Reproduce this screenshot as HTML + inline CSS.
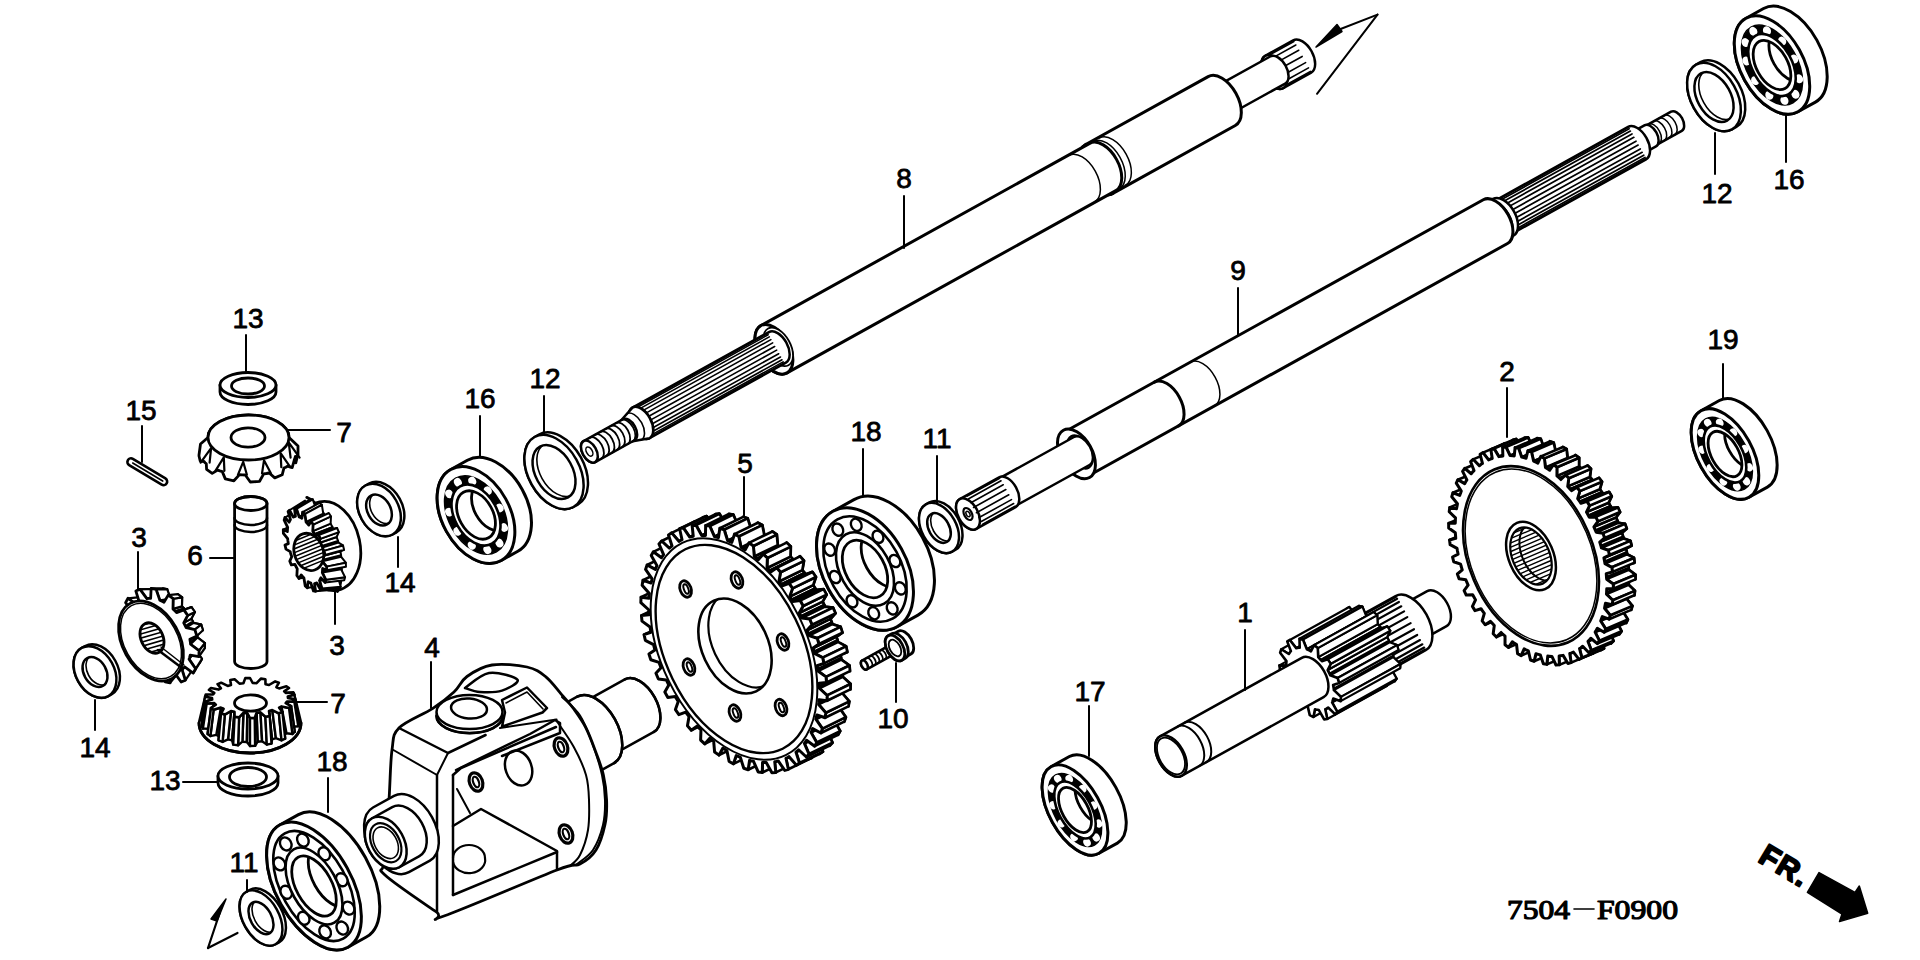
<!DOCTYPE html>
<html><head><meta charset="utf-8"><style>
html,body{margin:0;padding:0;background:#fff;width:1920px;height:960px;overflow:hidden}
svg{display:block}
text{font-family:"Liberation Sans",sans-serif}
</style></head><body>
<svg width="1920" height="960" viewBox="0 0 1920 960">
<rect width="1920" height="960" fill="#fff"/>
<g fill="none" stroke="#000" stroke-linejoin="round" stroke-linecap="round">
<g transform="translate(585.0,454.0) rotate(-29.0)">
<path d="M788.0,-18.5 L820.0,-18.5 A10.7,18.5 0 0 1 820.0,18.5 L788.0,18.5 A10.7,18.5 0 0 1 788.0,-18.5 Z" fill="#fff" stroke-width="2.5" />
<ellipse cx="788.0" cy="0.0" rx="10.7" ry="18.5" fill="#fff" stroke-width="2.5" />
<line x1="794.0" y1="-17.1" x2="820.0" y2="-17.1" stroke-width="1.6"/>
<line x1="794.0" y1="-13.1" x2="820.0" y2="-13.1" stroke-width="1.6"/>
<line x1="794.0" y1="-7.1" x2="820.0" y2="-7.1" stroke-width="1.6"/>
<line x1="794.0" y1="0.0" x2="820.0" y2="0.0" stroke-width="1.6"/>
<line x1="794.0" y1="7.1" x2="820.0" y2="7.1" stroke-width="1.6"/>
<line x1="794.0" y1="13.1" x2="820.0" y2="13.1" stroke-width="1.6"/>
<line x1="794.0" y1="17.1" x2="820.0" y2="17.1" stroke-width="1.6"/>
<path d="M722.0,-15.5 L792.0,-15.5 A9.0,15.5 0 0 1 792.0,15.5 L722.0,15.5 A9.0,15.5 0 0 1 722.0,-15.5 Z" fill="#fff" stroke-width="2.5" />
<path d="M588.0,-28.0 L728.0,-28.0 A16.2,28.0 0 0 1 728.0,28.0 L588.0,28.0 A16.2,28.0 0 0 1 588.0,-28.0 Z" fill="#fff" stroke-width="3" />
<path d="M588.0,28.0 A16.2,28.0 0 0 1 588.0,-28.0" fill="none" stroke-width="3" />
<path d="M596.0,-27.0 A15.7,27.0 0 0 1 596.0,27.0" fill="none" stroke-width="1.5" />
<path d="M603.0,-27.0 A15.7,27.0 0 0 1 603.0,27.0" fill="none" stroke-width="1.5" />
<path d="M216.0,-27.0 L592.0,-27.0 A15.7,27.0 0 0 1 592.0,27.0 L216.0,27.0 A15.7,27.0 0 0 1 216.0,-27.0 Z" fill="#fff" stroke-width="3" />
<path d="M568.0,-26.5 A15.4,26.5 0 0 1 568.0,26.5" fill="none" stroke-width="1.5" />
<ellipse cx="216.0" cy="0.0" rx="15.7" ry="27.0" fill="#fff" stroke-width="3" />
<ellipse cx="221.0" cy="0.0" rx="12.2" ry="21.0" fill="#fff" stroke-width="1.8" />
<path d="M64.0,-17.5 L220.0,-17.5 A10.1,17.5 0 0 1 220.0,17.5 L64.0,17.5 A10.1,17.5 0 0 1 64.0,-17.5 Z" fill="#fff" stroke-width="2.5" />
<ellipse cx="64.0" cy="0.0" rx="10.1" ry="17.5" fill="#fff" stroke-width="2.5" />
<line x1="70.0" y1="-17.0" x2="218.0" y2="-17.0" stroke-width="1.6"/>
<line x1="70.0" y1="-15.5" x2="218.0" y2="-15.5" stroke-width="1.6"/>
<line x1="70.0" y1="-13.1" x2="218.0" y2="-13.1" stroke-width="1.6"/>
<line x1="70.0" y1="-9.9" x2="218.0" y2="-9.9" stroke-width="1.6"/>
<line x1="70.0" y1="-6.2" x2="218.0" y2="-6.2" stroke-width="1.6"/>
<line x1="70.0" y1="-2.1" x2="218.0" y2="-2.1" stroke-width="1.6"/>
<line x1="70.0" y1="2.1" x2="218.0" y2="2.1" stroke-width="1.6"/>
<line x1="70.0" y1="6.2" x2="218.0" y2="6.2" stroke-width="1.6"/>
<line x1="70.0" y1="9.9" x2="218.0" y2="9.9" stroke-width="1.6"/>
<line x1="70.0" y1="13.1" x2="218.0" y2="13.1" stroke-width="1.6"/>
<line x1="70.0" y1="15.5" x2="218.0" y2="15.5" stroke-width="1.6"/>
<line x1="70.0" y1="17.0" x2="218.0" y2="17.0" stroke-width="1.6"/>
<path d="M48,-12 L64,-17.5 A10.1,17.5 0 0 1 64,17.5 L48,12 A7.0,12 0 0 1 48,-12 Z" fill="#fff" stroke-width="2.5" />
<path d="M56.0,-15.0 A8.7,15.0 0 0 1 56.0,15.0" fill="none" stroke-width="1.6" />
<path d="M5.0,-12.0 L50.0,-12.0 A7.0,12.0 0 0 1 50.0,12.0 L5.0,12.0 A7.0,12.0 0 0 1 5.0,-12.0 Z" fill="#fff" stroke-width="2.5" />
<ellipse cx="5.0" cy="0.0" rx="7.0" ry="12.0" fill="#fff" stroke-width="2.5" />
<path d="M12.0,-12.0 A7.0,12.0 0 0 1 12.0,12.0" fill="none" stroke-width="1.8" />
<path d="M18.0,-12.0 A7.0,12.0 0 0 1 18.0,12.0" fill="none" stroke-width="1.8" />
<path d="M24.0,-12.0 A7.0,12.0 0 0 1 24.0,12.0" fill="none" stroke-width="1.8" />
<path d="M30.0,-12.0 A7.0,12.0 0 0 1 30.0,12.0" fill="none" stroke-width="1.8" />
<path d="M36.0,-12.0 A7.0,12.0 0 0 1 36.0,12.0" fill="none" stroke-width="1.8" />
<path d="M42.0,-12.0 A7.0,12.0 0 0 1 42.0,12.0" fill="none" stroke-width="1.8" />
<path d="M48.0,-12.0 A7.0,12.0 0 0 1 48.0,12.0" fill="none" stroke-width="1.8" />
<ellipse cx="5.0" cy="0.0" rx="2.9" ry="5.0" fill="none" stroke-width="1.5" />
</g>
<g transform="translate(939.0,528.0) rotate(-29.0)">
<path d="M0.0,-27.0 L4.0,-27.0 A17.3,27.0 0 0 1 4.0,27.0 L0.0,27.0 A17.3,27.0 0 0 1 0.0,-27.0 Z" fill="#fff" stroke-width="2.5" />
<ellipse cx="0.0" cy="0.0" rx="17.3" ry="27.0" fill="#fff" stroke-width="2.5" />
<ellipse cx="0.0" cy="0.0" rx="10.2" ry="16.0" fill="#fff" stroke-width="2.5" />
<clipPath id="k1"><ellipse cx="0" cy="0" rx="10.2" ry="16.0"/></clipPath>
<ellipse cx="4.0" cy="0.0" rx="10.2" ry="16.0" fill="none" stroke-width="1.6" clip-path="url(#k1)"/>
</g>
<g transform="translate(968.0,514.0) rotate(-29.0)">
<path d="M772.0,-11.0 L810.0,-11.0 A6.4,11.0 0 0 1 810.0,11.0 L772.0,11.0 A6.4,11.0 0 0 1 772.0,-11.0 Z" fill="#fff" stroke-width="2.5" />
<ellipse cx="772.0" cy="0.0" rx="6.4" ry="11.0" fill="#fff" stroke-width="2.5" />
<path d="M778.0,-11.0 A6.4,11.0 0 0 1 778.0,11.0" fill="none" stroke-width="1.5" />
<path d="M784.0,-11.0 A6.4,11.0 0 0 1 784.0,11.0" fill="none" stroke-width="1.5" />
<path d="M790.0,-11.0 A6.4,11.0 0 0 1 790.0,11.0" fill="none" stroke-width="1.5" />
<path d="M796.0,-11.0 A6.4,11.0 0 0 1 796.0,11.0" fill="none" stroke-width="1.5" />
<path d="M802.0,-11.0 A6.4,11.0 0 0 1 802.0,11.0" fill="none" stroke-width="1.5" />
<path d="M760.0,-12.0 L780.0,-12.0 A7.0,12.0 0 0 1 780.0,12.0 L760.0,12.0 A7.0,12.0 0 0 1 760.0,-12.0 Z" fill="#fff" stroke-width="2.5" />
<path d="M606.0,-18.5 L765.0,-18.5 A10.7,18.5 0 0 1 765.0,18.5 L606.0,18.5 A10.7,18.5 0 0 1 606.0,-18.5 Z" fill="#fff" stroke-width="2.5" />
<ellipse cx="606.0" cy="0.0" rx="10.7" ry="18.5" fill="#fff" stroke-width="2.5" />
<line x1="614.0" y1="-18.0" x2="765.0" y2="-18.0" stroke-width="1.7"/>
<line x1="614.0" y1="-16.4" x2="765.0" y2="-16.4" stroke-width="1.7"/>
<line x1="614.0" y1="-13.8" x2="765.0" y2="-13.8" stroke-width="1.7"/>
<line x1="614.0" y1="-10.5" x2="765.0" y2="-10.5" stroke-width="1.7"/>
<line x1="614.0" y1="-6.6" x2="765.0" y2="-6.6" stroke-width="1.7"/>
<line x1="614.0" y1="-2.2" x2="765.0" y2="-2.2" stroke-width="1.7"/>
<line x1="614.0" y1="2.2" x2="765.0" y2="2.2" stroke-width="1.7"/>
<line x1="614.0" y1="6.6" x2="765.0" y2="6.6" stroke-width="1.7"/>
<line x1="614.0" y1="10.5" x2="765.0" y2="10.5" stroke-width="1.7"/>
<line x1="614.0" y1="13.8" x2="765.0" y2="13.8" stroke-width="1.7"/>
<line x1="614.0" y1="16.4" x2="765.0" y2="16.4" stroke-width="1.7"/>
<line x1="614.0" y1="18.0" x2="765.0" y2="18.0" stroke-width="1.7"/>
<path d="M596.0,-21.0 L612.0,-21.0 A12.2,21.0 0 0 1 612.0,21.0 L596.0,21.0 A12.2,21.0 0 0 1 596.0,-21.0 Z" fill="#fff" stroke-width="2.5" />
<path d="M606.0,-21.0 A12.2,21.0 0 0 1 606.0,21.0" fill="none" stroke-width="2" />
<path d="M124.0,-25.0 L603.0,-25.0 A14.5,25.0 0 0 1 603.0,25.0 L124.0,25.0 A14.5,25.0 0 0 1 124.0,-25.0 Z" fill="#fff" stroke-width="3" />
<path d="M227.0,-25.0 A14.5,25.0 0 0 1 227.0,25.0" fill="none" stroke-width="3" />
<path d="M268.0,-25.0 A14.5,25.0 0 0 1 268.0,25.0" fill="none" stroke-width="1.5" />
<ellipse cx="124.0" cy="0.0" rx="15.7" ry="27.0" fill="#fff" stroke-width="3" />
<ellipse cx="128.0" cy="0.0" rx="10.4" ry="18.0" fill="#fff" stroke-width="2.2" />
<path d="M42.0,-16.0 L130.0,-16.0 A9.3,16.0 0 0 1 130.0,16.0 L42.0,16.0 A9.3,16.0 0 0 1 42.0,-16.0 Z" fill="#fff" stroke-width="2.5" />
<ellipse cx="42.0" cy="0.0" rx="9.3" ry="16.0" fill="#fff" stroke-width="2.5" />
<path d="M0.0,-17.0 L45.0,-17.0 A9.9,17.0 0 0 1 45.0,17.0 L0.0,17.0 A9.9,17.0 0 0 1 0.0,-17.0 Z" fill="#fff" stroke-width="2.5" />
<ellipse cx="0.0" cy="0.0" rx="9.9" ry="17.0" fill="#fff" stroke-width="2.5" />
<line x1="8.0" y1="-16.0" x2="45.0" y2="-16.0" stroke-width="1.6"/>
<line x1="8.0" y1="-13.0" x2="45.0" y2="-13.0" stroke-width="1.6"/>
<line x1="8.0" y1="-8.5" x2="45.0" y2="-8.5" stroke-width="1.6"/>
<line x1="8.0" y1="-3.0" x2="45.0" y2="-3.0" stroke-width="1.6"/>
<line x1="8.0" y1="3.0" x2="45.0" y2="3.0" stroke-width="1.6"/>
<line x1="8.0" y1="8.5" x2="45.0" y2="8.5" stroke-width="1.6"/>
<line x1="8.0" y1="13.0" x2="45.0" y2="13.0" stroke-width="1.6"/>
<line x1="8.0" y1="16.0" x2="45.0" y2="16.0" stroke-width="1.6"/>
<ellipse cx="0.0" cy="0.0" rx="3.8" ry="6.5" fill="none" stroke-width="2.2" />
<ellipse cx="0.0" cy="0.0" rx="1.7" ry="3.0" fill="none" stroke-width="1.5" />
</g>
<g transform="translate(1171.0,756.0) rotate(-29.0)">
<path d="M268.0,-20.0 L304.0,-20.0 A11.6,20.0 0 0 1 304.0,20.0 L268.0,20.0 A11.6,20.0 0 0 1 268.0,-20.0 Z" fill="#fff" stroke-width="2.5" />
<path d="M226.0,-31.0 L274.0,-31.0 A18.0,31.0 0 0 1 274.0,31.0 L226.0,31.0 A18.0,31.0 0 0 1 226.0,-31.0 Z" fill="#fff" stroke-width="2.5" />
<ellipse cx="226.0" cy="0.0" rx="18.0" ry="31.0" fill="#fff" stroke-width="2.5" />
<line x1="232.0" y1="-30.2" x2="274.0" y2="-30.2" stroke-width="2.2"/>
<line x1="232.0" y1="-27.9" x2="274.0" y2="-27.9" stroke-width="2.2"/>
<line x1="232.0" y1="-24.2" x2="274.0" y2="-24.2" stroke-width="2.2"/>
<line x1="232.0" y1="-19.3" x2="274.0" y2="-19.3" stroke-width="2.2"/>
<line x1="232.0" y1="-13.5" x2="274.0" y2="-13.5" stroke-width="2.2"/>
<line x1="232.0" y1="-6.9" x2="274.0" y2="-6.9" stroke-width="2.2"/>
<line x1="232.0" y1="0.0" x2="274.0" y2="0.0" stroke-width="2.2"/>
<line x1="232.0" y1="6.9" x2="274.0" y2="6.9" stroke-width="2.2"/>
<line x1="232.0" y1="13.5" x2="274.0" y2="13.5" stroke-width="2.2"/>
<line x1="232.0" y1="19.3" x2="274.0" y2="19.3" stroke-width="2.2"/>
<line x1="232.0" y1="24.2" x2="274.0" y2="24.2" stroke-width="2.2"/>
<line x1="232.0" y1="27.9" x2="274.0" y2="27.9" stroke-width="2.2"/>
<line x1="232.0" y1="30.2" x2="274.0" y2="30.2" stroke-width="2.2"/>
<ellipse cx="226.0" cy="0.0" rx="18.0" ry="31.0" fill="#fff" stroke-width="2.5" />
<path d="M246.5,4.9 L246.4,6.5 L251.5,12.6 L250.4,17.6 L244.2,16.5 L243.0,20.0 L242.4,21.3 L245.3,30.7 L243.0,34.3 L237.8,28.4 L235.7,30.5 L234.9,31.2 L234.9,41.8 L231.9,43.2 L228.9,33.8 L226.5,34.0 L225.6,33.9 L222.7,43.4 L219.7,42.2 L219.6,31.5 L217.4,29.7 L216.6,28.9 L211.5,35.0 L209.2,31.5 L211.9,21.9 L210.5,18.6 L210.0,17.2 L203.9,18.5 L202.7,13.6 L207.7,7.3 L207.4,3.3 L207.3,1.6 L201.5,-2.1 L201.8,-7.4 L208.0,-8.9 L208.7,-12.8 L209.1,-14.3 L205.0,-22.3 L206.7,-26.7 L212.6,-23.2 L214.3,-26.0 L215.0,-27.0 L213.5,-37.4 L216.2,-39.9 L220.5,-32.1 L222.7,-33.2 L223.7,-33.5 L225.2,-43.9 L228.2,-43.9 L229.8,-33.6 L232.2,-32.8 L233.1,-32.3 L237.2,-40.3 L239.9,-37.9 L238.6,-27.5 L240.4,-24.9 L241.1,-23.7 L246.9,-27.6 L248.7,-23.2 L244.7,-15.1 L245.6,-11.3 L245.9,-9.7 L252.0,-8.5 L252.5,-3.2 L246.7,0.8 Z" fill="#fff" stroke-width="2.2" />
<path d="M142.0,17.2 L135.9,18.5 L203.9,18.5 L210.0,17.2 Z" fill="#fff" stroke-width="2.2" />
<path d="M138.7,-26.7 L144.6,-23.2 L212.6,-23.2 L206.7,-26.7 Z" fill="#fff" stroke-width="2.2" />
<path d="M148.6,28.9 L143.5,35.0 L211.5,35.0 L216.6,28.9 Z" fill="#fff" stroke-width="2.2" />
<path d="M148.2,-39.9 L152.5,-32.1 L220.5,-32.1 L216.2,-39.9 Z" fill="#fff" stroke-width="2.2" />
<path d="M157.6,33.9 L154.7,43.4 L222.7,43.4 L225.6,33.9 Z" fill="#fff" stroke-width="2.2" />
<path d="M160.9,33.8 L158.5,34.0 L226.5,34.0 L228.9,33.8 Z" fill="#fff" stroke-width="2.2" />
<path d="M160.2,-43.9 L161.8,-33.6 L229.8,-33.6 L228.2,-43.9 Z" fill="#fff" stroke-width="2.2" />
<path d="M161.8,-33.6 L164.2,-32.8 L232.2,-32.8 L229.8,-33.6 Z" fill="#fff" stroke-width="2.2" />
<path d="M164.2,-32.8 L165.1,-32.3 L233.1,-32.3 L232.2,-32.8 Z" fill="#fff" stroke-width="2.2" />
<path d="M166.9,41.8 L163.9,43.2 L231.9,43.2 L234.9,41.8 Z" fill="#fff" stroke-width="2.2" />
<path d="M166.9,31.2 L166.9,41.8 L234.9,41.8 L234.9,31.2 Z" fill="#fff" stroke-width="2.2" />
<path d="M167.7,30.5 L166.9,31.2 L234.9,31.2 L235.7,30.5 Z" fill="#fff" stroke-width="2.2" />
<path d="M169.8,28.4 L167.7,30.5 L235.7,30.5 L237.8,28.4 Z" fill="#fff" stroke-width="2.2" />
<path d="M169.2,-40.3 L171.9,-37.9 L239.9,-37.9 L237.2,-40.3 Z" fill="#fff" stroke-width="2.2" />
<path d="M171.9,-37.9 L170.6,-27.5 L238.6,-27.5 L239.9,-37.9 Z" fill="#fff" stroke-width="2.2" />
<path d="M170.6,-27.5 L172.4,-24.9 L240.4,-24.9 L238.6,-27.5 Z" fill="#fff" stroke-width="2.2" />
<path d="M172.4,-24.9 L173.1,-23.7 L241.1,-23.7 L240.4,-24.9 Z" fill="#fff" stroke-width="2.2" />
<path d="M175.0,20.0 L174.4,21.3 L242.4,21.3 L243.0,20.0 Z" fill="#fff" stroke-width="2.2" />
<path d="M176.2,16.5 L175.0,20.0 L243.0,20.0 L244.2,16.5 Z" fill="#fff" stroke-width="2.2" />
<path d="M174.4,21.3 L177.3,30.7 L245.3,30.7 L242.4,21.3 Z" fill="#fff" stroke-width="2.2" />
<path d="M177.3,30.7 L175.0,34.3 L243.0,34.3 L245.3,30.7 Z" fill="#fff" stroke-width="2.2" />
<path d="M176.7,-15.1 L177.6,-11.3 L245.6,-11.3 L244.7,-15.1 Z" fill="#fff" stroke-width="2.2" />
<path d="M177.6,-11.3 L177.9,-9.7 L245.9,-9.7 L245.6,-11.3 Z" fill="#fff" stroke-width="2.2" />
<path d="M178.5,4.9 L178.4,6.5 L246.4,6.5 L246.5,4.9 Z" fill="#fff" stroke-width="2.2" />
<path d="M178.7,0.8 L178.5,4.9 L246.5,4.9 L246.7,0.8 Z" fill="#fff" stroke-width="2.2" />
<path d="M180.7,-23.2 L176.7,-15.1 L244.7,-15.1 L248.7,-23.2 Z" fill="#fff" stroke-width="2.2" />
<path d="M178.9,-27.6 L180.7,-23.2 L248.7,-23.2 L246.9,-27.6 Z" fill="#fff" stroke-width="2.2" />
<path d="M178.4,6.5 L183.5,12.6 L251.5,12.6 L246.4,6.5 Z" fill="#fff" stroke-width="2.2" />
<path d="M177.9,-9.7 L184.0,-8.5 L252.0,-8.5 L245.9,-9.7 Z" fill="#fff" stroke-width="2.2" />
<path d="M184.5,-3.2 L178.7,0.8 L246.7,0.8 L252.5,-3.2 Z" fill="#fff" stroke-width="2.2" />
<path d="M183.5,12.6 L182.4,17.6 L250.4,17.6 L251.5,12.6 Z" fill="#fff" stroke-width="2.2" />
<path d="M184.0,-8.5 L184.5,-3.2 L252.5,-3.2 L252.0,-8.5 Z" fill="#fff" stroke-width="2.2" />
<path d="M178.5,4.9 L178.4,6.5 L183.5,12.6 L182.4,17.6 L176.2,16.5 L175.0,20.0 L174.4,21.3 L177.3,30.7 L175.0,34.3 L169.8,28.4 L167.7,30.5 L166.9,31.2 L166.9,41.8 L163.9,43.2 L160.9,33.8 L158.5,34.0 L157.6,33.9 L154.7,43.4 L151.7,42.2 L151.6,31.5 L149.4,29.7 L148.6,28.9 L143.5,35.0 L141.2,31.5 L143.9,21.9 L142.5,18.6 L142.0,17.2 L135.9,18.5 L134.7,13.6 L139.7,7.3 L139.4,3.3 L139.3,1.6 L133.5,-2.1 L133.8,-7.4 L140.0,-8.9 L140.7,-12.8 L141.1,-14.3 L137.0,-22.3 L138.7,-26.7 L144.6,-23.2 L146.3,-26.0 L147.0,-27.0 L145.5,-37.4 L148.2,-39.9 L152.5,-32.1 L154.7,-33.2 L155.7,-33.5 L157.2,-43.9 L160.2,-43.9 L161.8,-33.6 L164.2,-32.8 L165.1,-32.3 L169.2,-40.3 L171.9,-37.9 L170.6,-27.5 L172.4,-24.9 L173.1,-23.7 L178.9,-27.6 L180.7,-23.2 L176.7,-15.1 L177.6,-11.3 L177.9,-9.7 L184.0,-8.5 L184.5,-3.2 L178.7,0.8 Z" fill="#fff" stroke-width="2.6" />
<path d="M0.0,-22.5 L162.0,-22.5 A13.0,22.5 0 0 1 162.0,22.5 L0.0,22.5 A13.0,22.5 0 0 1 0.0,-22.5 Z" fill="#fff" stroke-width="2.5" />
<ellipse cx="0.0" cy="0.0" rx="13.0" ry="22.5" fill="#fff" stroke-width="2.5" />
<path d="M20.0,-22.5 A13.0,22.5 0 0 1 20.0,22.5" fill="none" stroke-width="2" />
<path d="M28.0,-22.5 A13.0,22.5 0 0 1 28.0,22.5" fill="none" stroke-width="2" />
<ellipse cx="0.0" cy="0.0" rx="11.6" ry="20.0" fill="none" stroke-width="1.8" />
</g>
<g transform="translate(476.0,515.0) rotate(-29.0)">
<path d="M0.0,-52.0 L19.0,-52.0 A33.8,52.0 0 0 1 19.0,52.0 L0.0,52.0 A33.8,52.0 0 0 1 0.0,-52.0 Z" fill="#fff" stroke-width="3" />
<ellipse cx="0.0" cy="0.0" rx="33.8" ry="52.0" fill="#fff" stroke-width="3" />
<path d="M27.4,0 A27.4,42.1 0 1 0 -27.4,0 A27.4,42.1 0 1 0 27.4,0 Z M21.3,0 A21.3,32.8 0 1 0 -21.3,0 A21.3,32.8 0 1 0 21.3,0 Z" fill="#000" fill-rule="evenodd" stroke-width="1.5"/>
<ellipse cx="24.1" cy="5.3" rx="3.8" ry="4.4" fill="#fff" stroke-width="1.2" stroke="none"/>
<ellipse cx="18.4" cy="24.5" rx="3.8" ry="4.4" fill="#fff" stroke-width="1.2" stroke="none"/>
<ellipse cx="6.9" cy="35.9" rx="3.8" ry="4.4" fill="#fff" stroke-width="1.2" stroke="none"/>
<ellipse cx="-6.9" cy="35.9" rx="3.8" ry="4.4" fill="#fff" stroke-width="1.2" stroke="none"/>
<ellipse cx="-18.4" cy="24.5" rx="3.8" ry="4.4" fill="#fff" stroke-width="1.2" stroke="none"/>
<ellipse cx="-24.1" cy="5.3" rx="3.8" ry="4.4" fill="#fff" stroke-width="1.2" stroke="none"/>
<ellipse cx="-22.1" cy="-15.6" rx="3.8" ry="4.4" fill="#fff" stroke-width="1.2" stroke="none"/>
<ellipse cx="-13.2" cy="-31.5" rx="3.8" ry="4.4" fill="#fff" stroke-width="1.2" stroke="none"/>
<ellipse cx="-0.0" cy="-37.4" rx="3.8" ry="4.4" fill="#fff" stroke-width="1.2" stroke="none"/>
<ellipse cx="13.2" cy="-31.5" rx="3.8" ry="4.4" fill="#fff" stroke-width="1.2" stroke="none"/>
<ellipse cx="22.1" cy="-15.6" rx="3.8" ry="4.4" fill="#fff" stroke-width="1.2" stroke="none"/>
<ellipse cx="0.0" cy="0.0" rx="21.3" ry="32.8" fill="#fff" stroke-width="2.6" />
<ellipse cx="0.0" cy="0.0" rx="16.9" ry="26.0" fill="#fff" stroke-width="2.8" />
<clipPath id="k2"><ellipse cx="0" cy="0" rx="16.9" ry="26.0"/></clipPath>
<ellipse cx="17.1" cy="0.0" rx="16.9" ry="26.0" fill="none" stroke-width="2.8" clip-path="url(#k2)"/>
</g>
<g transform="translate(554.0,472.0) rotate(-29.0)">
<path d="M0.0,-40.0 L5.0,-40.0 A25.6,40.0 0 0 1 5.0,40.0 L0.0,40.0 A25.6,40.0 0 0 1 0.0,-40.0 Z" fill="#fff" stroke-width="2.5" />
<ellipse cx="0.0" cy="0.0" rx="25.6" ry="40.0" fill="#fff" stroke-width="2.5" />
<ellipse cx="0.0" cy="0.0" rx="18.6" ry="29.0" fill="#fff" stroke-width="2.5" />
<clipPath id="k3"><ellipse cx="0" cy="0" rx="18.6" ry="29.0"/></clipPath>
<ellipse cx="5.0" cy="0.0" rx="18.6" ry="29.0" fill="none" stroke-width="1.6" clip-path="url(#k3)"/>
</g>
<g transform="translate(1772.0,65.0) rotate(-29.0)">
<path d="M0.0,-53.5 L20.0,-53.5 A31.3,53.5 0 0 1 20.0,53.5 L0.0,53.5 A31.3,53.5 0 0 1 0.0,-53.5 Z" fill="#fff" stroke-width="3" />
<ellipse cx="0.0" cy="0.0" rx="31.3" ry="53.5" fill="#fff" stroke-width="3" />
<path d="M25.4,0 A25.4,43.3 0 1 0 -25.4,0 A25.4,43.3 0 1 0 25.4,0 Z M19.7,0 A19.7,33.7 0 1 0 -19.7,0 A19.7,33.7 0 1 0 19.7,0 Z" fill="#000" fill-rule="evenodd" stroke-width="1.5"/>
<ellipse cx="22.3" cy="5.5" rx="3.9" ry="4.6" fill="#fff" stroke-width="1.2" stroke="none"/>
<ellipse cx="17.0" cy="25.2" rx="3.9" ry="4.6" fill="#fff" stroke-width="1.2" stroke="none"/>
<ellipse cx="6.3" cy="37.0" rx="3.9" ry="4.6" fill="#fff" stroke-width="1.2" stroke="none"/>
<ellipse cx="-6.3" cy="37.0" rx="3.9" ry="4.6" fill="#fff" stroke-width="1.2" stroke="none"/>
<ellipse cx="-17.0" cy="25.2" rx="3.9" ry="4.6" fill="#fff" stroke-width="1.2" stroke="none"/>
<ellipse cx="-22.3" cy="5.5" rx="3.9" ry="4.6" fill="#fff" stroke-width="1.2" stroke="none"/>
<ellipse cx="-20.5" cy="-16.0" rx="3.9" ry="4.6" fill="#fff" stroke-width="1.2" stroke="none"/>
<ellipse cx="-12.2" cy="-32.4" rx="3.9" ry="4.6" fill="#fff" stroke-width="1.2" stroke="none"/>
<ellipse cx="-0.0" cy="-38.5" rx="3.9" ry="4.6" fill="#fff" stroke-width="1.2" stroke="none"/>
<ellipse cx="12.2" cy="-32.4" rx="3.9" ry="4.6" fill="#fff" stroke-width="1.2" stroke="none"/>
<ellipse cx="20.5" cy="-16.0" rx="3.9" ry="4.6" fill="#fff" stroke-width="1.2" stroke="none"/>
<ellipse cx="0.0" cy="0.0" rx="19.7" ry="33.7" fill="#fff" stroke-width="2.6" />
<ellipse cx="0.0" cy="0.0" rx="15.6" ry="26.8" fill="#fff" stroke-width="2.8" />
<clipPath id="k4"><ellipse cx="0" cy="0" rx="15.6" ry="26.8"/></clipPath>
<ellipse cx="18.0" cy="0.0" rx="15.6" ry="26.8" fill="none" stroke-width="2.8" clip-path="url(#k4)"/>
</g>
<g transform="translate(1714.0,97.0) rotate(-29.0)">
<path d="M0.0,-37.0 L5.0,-37.0 A22.9,37.0 0 0 1 5.0,37.0 L0.0,37.0 A22.9,37.0 0 0 1 0.0,-37.0 Z" fill="#fff" stroke-width="2.5" />
<ellipse cx="0.0" cy="0.0" rx="22.9" ry="37.0" fill="#fff" stroke-width="2.5" />
<ellipse cx="0.0" cy="0.0" rx="16.7" ry="27.0" fill="#fff" stroke-width="2.5" />
<clipPath id="k5"><ellipse cx="0" cy="0" rx="16.7" ry="27.0"/></clipPath>
<ellipse cx="5.0" cy="0.0" rx="16.7" ry="27.0" fill="none" stroke-width="1.6" clip-path="url(#k5)"/>
</g>
<g transform="translate(734.0,649.0) rotate(-26)">
<path d="M100.4,0.0 L100.4,1.9 L107.1,6.2 L106.8,12.4 L99.8,15.2 L99.5,18.9 L99.3,20.8 L105.5,26.8 L104.6,32.8 L97.5,33.8 L96.8,37.4 L96.4,39.2 L101.9,46.7 L100.5,52.4 L93.3,51.5 L92.3,54.9 L91.8,56.6 L96.5,65.4 L94.5,70.7 L87.5,68.0 L86.2,71.1 L85.5,72.7 L89.4,82.5 L86.9,87.3 L80.2,82.8 L78.6,85.6 L77.8,86.9 L80.6,97.6 L77.7,101.7 L71.6,95.6 L69.7,97.9 L68.8,99.0 L70.6,110.3 L67.3,113.6 L61.8,106.0 L59.8,107.8 L58.7,108.7 L59.4,120.3 L55.9,122.7 L51.2,113.8 L49.0,115.1 L47.9,115.7 L47.4,127.3 L43.7,128.8 L39.9,118.9 L37.6,119.5 L36.5,119.8 L34.9,131.2 L31.1,131.7 L28.3,120.9 L26.0,121.0 L24.8,121.0 L22.2,131.9 L18.4,131.4 L16.7,120.0 L14.4,119.5 L13.2,119.2 L9.5,129.3 L5.8,127.9 L5.2,116.2 L3.0,115.1 L1.9,114.5 L-2.7,123.5 L-6.2,121.1 L-5.7,109.5 L-7.8,107.8 L-8.8,106.9 L-14.2,114.7 L-17.5,111.5 L-15.8,100.1 L-17.7,97.9 L-18.7,96.8 L-24.8,103.0 L-27.7,99.0 L-24.9,88.2 L-26.6,85.6 L-27.4,84.2 L-34.0,88.8 L-36.6,84.1 L-32.8,74.2 L-34.2,71.1 L-34.9,69.6 L-41.9,72.5 L-43.9,67.2 L-39.2,58.3 L-40.3,54.9 L-40.8,53.2 L-48.0,54.3 L-49.5,48.6 L-44.0,41.0 L-44.8,37.4 L-45.1,35.6 L-52.3,34.8 L-53.2,28.8 L-47.1,22.7 L-47.5,18.9 L-47.7,17.0 L-54.7,14.5 L-55.0,8.3 L-48.4,3.8 L-48.4,0.0 L-48.4,-1.9 L-55.1,-6.2 L-54.8,-12.4 L-47.8,-15.2 L-47.5,-18.9 L-47.3,-20.8 L-53.5,-26.8 L-52.6,-32.8 L-45.5,-33.8 L-44.8,-37.4 L-44.4,-39.2 L-49.9,-46.7 L-48.5,-52.4 L-41.3,-51.5 L-40.3,-54.9 L-39.8,-56.6 L-44.5,-65.4 L-42.5,-70.7 L-35.5,-68.0 L-34.2,-71.1 L-33.5,-72.7 L-37.4,-82.5 L-34.9,-87.3 L-28.2,-82.8 L-26.6,-85.6 L-25.8,-86.9 L-28.6,-97.6 L-25.7,-101.7 L-19.6,-95.6 L-17.7,-97.9 L-16.8,-99.0 L-18.6,-110.3 L-15.3,-113.6 L-9.8,-106.0 L-7.8,-107.8 L-6.7,-108.7 L-7.4,-120.3 L-3.9,-122.7 L0.8,-113.8 L3.0,-115.1 L4.1,-115.7 L4.6,-127.3 L8.3,-128.8 L12.1,-118.9 L14.4,-119.5 L15.5,-119.8 L17.1,-131.2 L20.9,-131.7 L23.7,-120.9 L26.0,-121.0 L27.2,-121.0 L29.8,-131.9 L33.6,-131.4 L35.3,-120.0 L37.6,-119.5 L38.8,-119.2 L42.5,-129.3 L46.2,-127.9 L46.8,-116.2 L49.0,-115.1 L50.1,-114.5 L54.7,-123.5 L58.2,-121.1 L57.7,-109.5 L59.8,-107.8 L60.8,-106.9 L66.2,-114.7 L69.5,-111.5 L67.8,-100.1 L69.7,-97.9 L70.7,-96.8 L76.8,-103.0 L79.7,-99.0 L76.9,-88.2 L78.6,-85.6 L79.4,-84.2 L86.0,-88.8 L88.6,-84.1 L84.8,-74.2 L86.2,-71.1 L86.9,-69.6 L93.9,-72.5 L95.9,-67.2 L91.2,-58.3 L92.3,-54.9 L92.8,-53.2 L100.0,-54.3 L101.5,-48.6 L96.0,-41.0 L96.8,-37.4 L97.1,-35.6 L104.3,-34.8 L105.2,-28.8 L99.1,-22.7 L99.5,-18.9 L99.7,-17.0 L106.7,-14.5 L107.0,-8.3 L100.4,-3.8 Z" fill="#fff" stroke-width="3.0" />
<path d="M-74.5,-52.4 L-67.3,-51.5 L-41.3,-51.5 L-48.5,-52.4 Z" fill="#fff" stroke-width="2.6" />
<path d="M-66.8,53.2 L-74.0,54.3 L-48.0,54.3 L-40.8,53.2 Z" fill="#fff" stroke-width="2.6" />
<path d="M-68.5,-70.7 L-61.5,-68.0 L-35.5,-68.0 L-42.5,-70.7 Z" fill="#fff" stroke-width="2.6" />
<path d="M-60.9,69.6 L-67.9,72.5 L-41.9,72.5 L-34.9,69.6 Z" fill="#fff" stroke-width="2.6" />
<path d="M-60.9,-87.3 L-54.2,-82.8 L-28.2,-82.8 L-34.9,-87.3 Z" fill="#fff" stroke-width="2.6" />
<path d="M-53.4,84.2 L-60.0,88.8 L-34.0,88.8 L-27.4,84.2 Z" fill="#fff" stroke-width="2.6" />
<path d="M-51.7,-101.7 L-45.6,-95.6 L-19.6,-95.6 L-25.7,-101.7 Z" fill="#fff" stroke-width="2.6" />
<path d="M-44.7,96.8 L-50.8,103.0 L-24.8,103.0 L-18.7,96.8 Z" fill="#fff" stroke-width="2.6" />
<path d="M-41.3,-113.6 L-35.8,-106.0 L-9.8,-106.0 L-15.3,-113.6 Z" fill="#fff" stroke-width="2.6" />
<path d="M-34.8,106.9 L-40.2,114.7 L-14.2,114.7 L-8.8,106.9 Z" fill="#fff" stroke-width="2.6" />
<path d="M-29.9,-122.7 L-25.2,-113.8 L0.8,-113.8 L-3.9,-122.7 Z" fill="#fff" stroke-width="2.6" />
<path d="M-24.1,114.5 L-28.7,123.5 L-2.7,123.5 L1.9,114.5 Z" fill="#fff" stroke-width="2.6" />
<path d="M-17.7,-128.8 L-13.9,-118.9 L12.1,-118.9 L8.3,-128.8 Z" fill="#fff" stroke-width="2.6" />
<path d="M-12.8,119.2 L-16.5,129.3 L9.5,129.3 L13.2,119.2 Z" fill="#fff" stroke-width="2.6" />
<path d="M-5.1,-131.7 L-2.3,-120.9 L23.7,-120.9 L20.9,-131.7 Z" fill="#fff" stroke-width="2.6" />
<path d="M-1.2,121.0 L-3.8,131.9 L22.2,131.9 L24.8,121.0 Z" fill="#fff" stroke-width="2.6" />
<path d="M-0.0,-121.0 L1.2,-121.0 L27.2,-121.0 L26.0,-121.0 Z" fill="#fff" stroke-width="2.6" />
<path d="M2.3,120.9 L0.0,121.0 L26.0,121.0 L28.3,120.9 Z" fill="#fff" stroke-width="2.6" />
<path d="M3.8,-131.9 L7.6,-131.4 L33.6,-131.4 L29.8,-131.9 Z" fill="#fff" stroke-width="2.6" />
<path d="M8.9,131.2 L5.1,131.7 L31.1,131.7 L34.9,131.2 Z" fill="#fff" stroke-width="2.6" />
<path d="M7.6,-131.4 L9.3,-120.0 L35.3,-120.0 L33.6,-131.4 Z" fill="#fff" stroke-width="2.6" />
<path d="M10.5,119.8 L8.9,131.2 L34.9,131.2 L36.5,119.8 Z" fill="#fff" stroke-width="2.6" />
<path d="M9.3,-120.0 L11.6,-119.5 L37.6,-119.5 L35.3,-120.0 Z" fill="#fff" stroke-width="2.6" />
<path d="M11.6,119.5 L10.5,119.8 L36.5,119.8 L37.6,119.5 Z" fill="#fff" stroke-width="2.6" />
<path d="M11.6,-119.5 L12.8,-119.2 L38.8,-119.2 L37.6,-119.5 Z" fill="#fff" stroke-width="2.6" />
<path d="M13.9,118.9 L11.6,119.5 L37.6,119.5 L39.9,118.9 Z" fill="#fff" stroke-width="2.6" />
<path d="M16.5,-129.3 L20.2,-127.9 L46.2,-127.9 L42.5,-129.3 Z" fill="#fff" stroke-width="2.6" />
<path d="M21.4,127.3 L17.7,128.8 L43.7,128.8 L47.4,127.3 Z" fill="#fff" stroke-width="2.6" />
<path d="M20.2,-127.9 L20.8,-116.2 L46.8,-116.2 L46.2,-127.9 Z" fill="#fff" stroke-width="2.6" />
<path d="M21.9,115.7 L21.4,127.3 L47.4,127.3 L47.9,115.7 Z" fill="#fff" stroke-width="2.6" />
<path d="M20.8,-116.2 L23.0,-115.1 L49.0,-115.1 L46.8,-116.2 Z" fill="#fff" stroke-width="2.6" />
<path d="M23.0,115.1 L21.9,115.7 L47.9,115.7 L49.0,115.1 Z" fill="#fff" stroke-width="2.6" />
<path d="M23.0,-115.1 L24.1,-114.5 L50.1,-114.5 L49.0,-115.1 Z" fill="#fff" stroke-width="2.6" />
<path d="M25.2,113.8 L23.0,115.1 L49.0,115.1 L51.2,113.8 Z" fill="#fff" stroke-width="2.6" />
<path d="M28.7,-123.5 L32.2,-121.1 L58.2,-121.1 L54.7,-123.5 Z" fill="#fff" stroke-width="2.6" />
<path d="M33.4,120.3 L29.9,122.7 L55.9,122.7 L59.4,120.3 Z" fill="#fff" stroke-width="2.6" />
<path d="M32.2,-121.1 L31.7,-109.5 L57.7,-109.5 L58.2,-121.1 Z" fill="#fff" stroke-width="2.6" />
<path d="M31.7,-109.5 L33.8,-107.8 L59.8,-107.8 L57.7,-109.5 Z" fill="#fff" stroke-width="2.6" />
<path d="M32.7,108.7 L33.4,120.3 L59.4,120.3 L58.7,108.7 Z" fill="#fff" stroke-width="2.6" />
<path d="M33.8,107.8 L32.7,108.7 L58.7,108.7 L59.8,107.8 Z" fill="#fff" stroke-width="2.6" />
<path d="M33.8,-107.8 L34.8,-106.9 L60.8,-106.9 L59.8,-107.8 Z" fill="#fff" stroke-width="2.6" />
<path d="M35.8,106.0 L33.8,107.8 L59.8,107.8 L61.8,106.0 Z" fill="#fff" stroke-width="2.6" />
<path d="M40.2,-114.7 L43.5,-111.5 L69.5,-111.5 L66.2,-114.7 Z" fill="#fff" stroke-width="2.6" />
<path d="M43.5,-111.5 L41.8,-100.1 L67.8,-100.1 L69.5,-111.5 Z" fill="#fff" stroke-width="2.6" />
<path d="M41.8,-100.1 L43.7,-97.9 L69.7,-97.9 L67.8,-100.1 Z" fill="#fff" stroke-width="2.6" />
<path d="M44.6,110.3 L41.3,113.6 L67.3,113.6 L70.6,110.3 Z" fill="#fff" stroke-width="2.6" />
<path d="M43.7,97.9 L42.8,99.0 L68.8,99.0 L69.7,97.9 Z" fill="#fff" stroke-width="2.6" />
<path d="M42.8,99.0 L44.6,110.3 L70.6,110.3 L68.8,99.0 Z" fill="#fff" stroke-width="2.6" />
<path d="M43.7,-97.9 L44.7,-96.8 L70.7,-96.8 L69.7,-97.9 Z" fill="#fff" stroke-width="2.6" />
<path d="M45.6,95.6 L43.7,97.9 L69.7,97.9 L71.6,95.6 Z" fill="#fff" stroke-width="2.6" />
<path d="M50.9,-88.2 L52.6,-85.6 L78.6,-85.6 L76.9,-88.2 Z" fill="#fff" stroke-width="2.6" />
<path d="M52.6,85.6 L51.8,86.9 L77.8,86.9 L78.6,85.6 Z" fill="#fff" stroke-width="2.6" />
<path d="M50.8,-103.0 L53.7,-99.0 L79.7,-99.0 L76.8,-103.0 Z" fill="#fff" stroke-width="2.6" />
<path d="M53.7,-99.0 L50.9,-88.2 L76.9,-88.2 L79.7,-99.0 Z" fill="#fff" stroke-width="2.6" />
<path d="M52.6,-85.6 L53.4,-84.2 L79.4,-84.2 L78.6,-85.6 Z" fill="#fff" stroke-width="2.6" />
<path d="M54.6,97.6 L51.7,101.7 L77.7,101.7 L80.6,97.6 Z" fill="#fff" stroke-width="2.6" />
<path d="M51.8,86.9 L54.6,97.6 L80.6,97.6 L77.8,86.9 Z" fill="#fff" stroke-width="2.6" />
<path d="M54.2,82.8 L52.6,85.6 L78.6,85.6 L80.2,82.8 Z" fill="#fff" stroke-width="2.6" />
<path d="M58.8,-74.2 L60.2,-71.1 L86.2,-71.1 L84.8,-74.2 Z" fill="#fff" stroke-width="2.6" />
<path d="M60.2,71.1 L59.5,72.7 L85.5,72.7 L86.2,71.1 Z" fill="#fff" stroke-width="2.6" />
<path d="M60.2,-71.1 L60.9,-69.6 L86.9,-69.6 L86.2,-71.1 Z" fill="#fff" stroke-width="2.6" />
<path d="M62.6,-84.1 L58.8,-74.2 L84.8,-74.2 L88.6,-84.1 Z" fill="#fff" stroke-width="2.6" />
<path d="M61.5,68.0 L60.2,71.1 L86.2,71.1 L87.5,68.0 Z" fill="#fff" stroke-width="2.6" />
<path d="M60.0,-88.8 L62.6,-84.1 L88.6,-84.1 L86.0,-88.8 Z" fill="#fff" stroke-width="2.6" />
<path d="M59.5,72.7 L63.4,82.5 L89.4,82.5 L85.5,72.7 Z" fill="#fff" stroke-width="2.6" />
<path d="M63.4,82.5 L60.9,87.3 L86.9,87.3 L89.4,82.5 Z" fill="#fff" stroke-width="2.6" />
<path d="M65.2,-58.3 L66.3,-54.9 L92.3,-54.9 L91.2,-58.3 Z" fill="#fff" stroke-width="2.6" />
<path d="M66.3,54.9 L65.8,56.6 L91.8,56.6 L92.3,54.9 Z" fill="#fff" stroke-width="2.6" />
<path d="M66.3,-54.9 L66.8,-53.2 L92.8,-53.2 L92.3,-54.9 Z" fill="#fff" stroke-width="2.6" />
<path d="M67.3,51.5 L66.3,54.9 L92.3,54.9 L93.3,51.5 Z" fill="#fff" stroke-width="2.6" />
<path d="M69.9,-67.2 L65.2,-58.3 L91.2,-58.3 L95.9,-67.2 Z" fill="#fff" stroke-width="2.6" />
<path d="M65.8,56.6 L70.5,65.4 L96.5,65.4 L91.8,56.6 Z" fill="#fff" stroke-width="2.6" />
<path d="M67.9,-72.5 L69.9,-67.2 L95.9,-67.2 L93.9,-72.5 Z" fill="#fff" stroke-width="2.6" />
<path d="M70.5,65.4 L68.5,70.7 L94.5,70.7 L96.5,65.4 Z" fill="#fff" stroke-width="2.6" />
<path d="M70.0,-41.0 L70.8,-37.4 L96.8,-37.4 L96.0,-41.0 Z" fill="#fff" stroke-width="2.6" />
<path d="M70.8,37.4 L70.4,39.2 L96.4,39.2 L96.8,37.4 Z" fill="#fff" stroke-width="2.6" />
<path d="M70.8,-37.4 L71.1,-35.6 L97.1,-35.6 L96.8,-37.4 Z" fill="#fff" stroke-width="2.6" />
<path d="M71.5,33.8 L70.8,37.4 L96.8,37.4 L97.5,33.8 Z" fill="#fff" stroke-width="2.6" />
<path d="M75.5,-48.6 L70.0,-41.0 L96.0,-41.0 L101.5,-48.6 Z" fill="#fff" stroke-width="2.6" />
<path d="M70.4,39.2 L75.9,46.7 L101.9,46.7 L96.4,39.2 Z" fill="#fff" stroke-width="2.6" />
<path d="M73.1,-22.7 L73.5,-18.9 L99.5,-18.9 L99.1,-22.7 Z" fill="#fff" stroke-width="2.6" />
<path d="M73.5,18.9 L73.3,20.8 L99.3,20.8 L99.5,18.9 Z" fill="#fff" stroke-width="2.6" />
<path d="M73.5,-18.9 L73.7,-17.0 L99.7,-17.0 L99.5,-18.9 Z" fill="#fff" stroke-width="2.6" />
<path d="M73.8,15.2 L73.5,18.9 L99.5,18.9 L99.8,15.2 Z" fill="#fff" stroke-width="2.6" />
<path d="M74.4,-3.8 L74.4,0.0 L100.4,0.0 L100.4,-3.8 Z" fill="#fff" stroke-width="2.6" />
<path d="M74.4,0.0 L74.4,1.9 L100.4,1.9 L100.4,0.0 Z" fill="#fff" stroke-width="2.6" />
<path d="M71.1,-35.6 L78.3,-34.8 L104.3,-34.8 L97.1,-35.6 Z" fill="#fff" stroke-width="2.6" />
<path d="M74.0,-54.3 L75.5,-48.6 L101.5,-48.6 L100.0,-54.3 Z" fill="#fff" stroke-width="2.6" />
<path d="M78.6,32.8 L71.5,33.8 L97.5,33.8 L104.6,32.8 Z" fill="#fff" stroke-width="2.6" />
<path d="M75.9,46.7 L74.5,52.4 L100.5,52.4 L101.9,46.7 Z" fill="#fff" stroke-width="2.6" />
<path d="M79.2,-28.8 L73.1,-22.7 L99.1,-22.7 L105.2,-28.8 Z" fill="#fff" stroke-width="2.6" />
<path d="M73.3,20.8 L79.5,26.8 L105.5,26.8 L99.3,20.8 Z" fill="#fff" stroke-width="2.6" />
<path d="M73.7,-17.0 L80.7,-14.5 L106.7,-14.5 L99.7,-17.0 Z" fill="#fff" stroke-width="2.6" />
<path d="M80.8,12.4 L73.8,15.2 L99.8,15.2 L106.8,12.4 Z" fill="#fff" stroke-width="2.6" />
<path d="M81.0,-8.3 L74.4,-3.8 L100.4,-3.8 L107.0,-8.3 Z" fill="#fff" stroke-width="2.6" />
<path d="M74.4,1.9 L81.1,6.2 L107.1,6.2 L100.4,1.9 Z" fill="#fff" stroke-width="2.6" />
<path d="M78.3,-34.8 L79.2,-28.8 L105.2,-28.8 L104.3,-34.8 Z" fill="#fff" stroke-width="2.6" />
<path d="M79.5,26.8 L78.6,32.8 L104.6,32.8 L105.5,26.8 Z" fill="#fff" stroke-width="2.6" />
<path d="M80.7,-14.5 L81.0,-8.3 L107.0,-8.3 L106.7,-14.5 Z" fill="#fff" stroke-width="2.6" />
<path d="M81.1,6.2 L80.8,12.4 L106.8,12.4 L107.1,6.2 Z" fill="#fff" stroke-width="2.6" />
<path d="M74.4,0.0 L74.4,1.9 L81.1,6.2 L80.8,12.4 L73.8,15.2 L73.5,18.9 L73.3,20.8 L79.5,26.8 L78.6,32.8 L71.5,33.8 L70.8,37.4 L70.4,39.2 L75.9,46.7 L74.5,52.4 L67.3,51.5 L66.3,54.9 L65.8,56.6 L70.5,65.4 L68.5,70.7 L61.5,68.0 L60.2,71.1 L59.5,72.7 L63.4,82.5 L60.9,87.3 L54.2,82.8 L52.6,85.6 L51.8,86.9 L54.6,97.6 L51.7,101.7 L45.6,95.6 L43.7,97.9 L42.8,99.0 L44.6,110.3 L41.3,113.6 L35.8,106.0 L33.8,107.8 L32.7,108.7 L33.4,120.3 L29.9,122.7 L25.2,113.8 L23.0,115.1 L21.9,115.7 L21.4,127.3 L17.7,128.8 L13.9,118.9 L11.6,119.5 L10.5,119.8 L8.9,131.2 L5.1,131.7 L2.3,120.9 L0.0,121.0 L-1.2,121.0 L-3.8,131.9 L-7.6,131.4 L-9.3,120.0 L-11.6,119.5 L-12.8,119.2 L-16.5,129.3 L-20.2,127.9 L-20.8,116.2 L-23.0,115.1 L-24.1,114.5 L-28.7,123.5 L-32.2,121.1 L-31.7,109.5 L-33.8,107.8 L-34.8,106.9 L-40.2,114.7 L-43.5,111.5 L-41.8,100.1 L-43.7,97.9 L-44.7,96.8 L-50.8,103.0 L-53.7,99.0 L-50.9,88.2 L-52.6,85.6 L-53.4,84.2 L-60.0,88.8 L-62.6,84.1 L-58.8,74.2 L-60.2,71.1 L-60.9,69.6 L-67.9,72.5 L-69.9,67.2 L-65.2,58.3 L-66.3,54.9 L-66.8,53.2 L-74.0,54.3 L-75.5,48.6 L-70.0,41.0 L-70.8,37.4 L-71.1,35.6 L-78.3,34.8 L-79.2,28.8 L-73.1,22.7 L-73.5,18.9 L-73.7,17.0 L-80.7,14.5 L-81.0,8.3 L-74.4,3.8 L-74.4,0.0 L-74.4,-1.9 L-81.1,-6.2 L-80.8,-12.4 L-73.8,-15.2 L-73.5,-18.9 L-73.3,-20.8 L-79.5,-26.8 L-78.6,-32.8 L-71.5,-33.8 L-70.8,-37.4 L-70.4,-39.2 L-75.9,-46.7 L-74.5,-52.4 L-67.3,-51.5 L-66.3,-54.9 L-65.8,-56.6 L-70.5,-65.4 L-68.5,-70.7 L-61.5,-68.0 L-60.2,-71.1 L-59.5,-72.7 L-63.4,-82.5 L-60.9,-87.3 L-54.2,-82.8 L-52.6,-85.6 L-51.8,-86.9 L-54.6,-97.6 L-51.7,-101.7 L-45.6,-95.6 L-43.7,-97.9 L-42.8,-99.0 L-44.6,-110.3 L-41.3,-113.6 L-35.8,-106.0 L-33.8,-107.8 L-32.7,-108.7 L-33.4,-120.3 L-29.9,-122.7 L-25.2,-113.8 L-23.0,-115.1 L-21.9,-115.7 L-21.4,-127.3 L-17.7,-128.8 L-13.9,-118.9 L-11.6,-119.5 L-10.5,-119.8 L-8.9,-131.2 L-5.1,-131.7 L-2.3,-120.9 L-0.0,-121.0 L1.2,-121.0 L3.8,-131.9 L7.6,-131.4 L9.3,-120.0 L11.6,-119.5 L12.8,-119.2 L16.5,-129.3 L20.2,-127.9 L20.8,-116.2 L23.0,-115.1 L24.1,-114.5 L28.7,-123.5 L32.2,-121.1 L31.7,-109.5 L33.8,-107.8 L34.8,-106.9 L40.2,-114.7 L43.5,-111.5 L41.8,-100.1 L43.7,-97.9 L44.7,-96.8 L50.8,-103.0 L53.7,-99.0 L50.9,-88.2 L52.6,-85.6 L53.4,-84.2 L60.0,-88.8 L62.6,-84.1 L58.8,-74.2 L60.2,-71.1 L60.9,-69.6 L67.9,-72.5 L69.9,-67.2 L65.2,-58.3 L66.3,-54.9 L66.8,-53.2 L74.0,-54.3 L75.5,-48.6 L70.0,-41.0 L70.8,-37.4 L71.1,-35.6 L78.3,-34.8 L79.2,-28.8 L73.1,-22.7 L73.5,-18.9 L73.7,-17.0 L80.7,-14.5 L81.0,-8.3 L74.4,-3.8 Z" fill="#fff" stroke-width="3.0" />
<ellipse cx="0.0" cy="0.0" rx="72.6" ry="118.0" fill="none" stroke-width="2.0" />
<ellipse cx="0.0" cy="0.0" rx="68.3" ry="111.0" fill="none" stroke-width="2.4" />
</g>
<ellipse cx="735.0" cy="646.0" rx="33.0" ry="50.0" transform="rotate(-25 735.0 646.0)" fill="#fff" stroke-width="2.6"/>
<clipPath id="k6"><ellipse cx="735" cy="646" rx="33" ry="50" transform="rotate(-25 735 646)"/></clipPath>
<g clip-path="url(#k6)">
<ellipse cx="745.0" cy="640.0" rx="33.0" ry="50.0" transform="rotate(-25 745.0 640.0)" fill="none" stroke-width="2.2"/>
</g>
<ellipse cx="685.6" cy="589.0" rx="5.5" ry="8.5" transform="rotate(-20 685.6 589.0)" fill="none" stroke-width="2.8"/>
<ellipse cx="686.1" cy="589.0" rx="2.2" ry="5.0" transform="rotate(-20 686.1 589.0)" fill="none" stroke-width="2.0"/>
<ellipse cx="737.0" cy="580.0" rx="5.5" ry="8.5" transform="rotate(-20 737.0 580.0)" fill="none" stroke-width="2.8"/>
<ellipse cx="737.5" cy="580.0" rx="2.2" ry="5.0" transform="rotate(-20 737.5 580.0)" fill="none" stroke-width="2.0"/>
<ellipse cx="783.0" cy="642.0" rx="5.5" ry="8.5" transform="rotate(-20 783.0 642.0)" fill="none" stroke-width="2.8"/>
<ellipse cx="783.5" cy="642.0" rx="2.2" ry="5.0" transform="rotate(-20 783.5 642.0)" fill="none" stroke-width="2.0"/>
<ellipse cx="689.0" cy="667.0" rx="5.5" ry="8.5" transform="rotate(-20 689.0 667.0)" fill="none" stroke-width="2.8"/>
<ellipse cx="689.5" cy="667.0" rx="2.2" ry="5.0" transform="rotate(-20 689.5 667.0)" fill="none" stroke-width="2.0"/>
<ellipse cx="735.0" cy="713.0" rx="5.5" ry="8.5" transform="rotate(-20 735.0 713.0)" fill="none" stroke-width="2.8"/>
<ellipse cx="735.5" cy="713.0" rx="2.2" ry="5.0" transform="rotate(-20 735.5 713.0)" fill="none" stroke-width="2.0"/>
<ellipse cx="781.0" cy="707.5" rx="5.5" ry="8.5" transform="rotate(-20 781.0 707.5)" fill="none" stroke-width="2.8"/>
<ellipse cx="781.5" cy="707.5" rx="2.2" ry="5.0" transform="rotate(-20 781.5 707.5)" fill="none" stroke-width="2.0"/>
<g transform="translate(865.0,569.0) rotate(-29.0)">
<path d="M0.0,-66.0 L24.0,-66.0 A41.6,66.0 0 0 1 24.0,66.0 L0.0,66.0 A41.6,66.0 0 0 1 0.0,-66.0 Z" fill="#fff" stroke-width="3" />
<ellipse cx="0.0" cy="0.0" rx="41.6" ry="66.0" fill="#fff" stroke-width="3" />
<ellipse cx="0.0" cy="0.0" rx="35.8" ry="56.8" fill="none" stroke-width="2.6" />
<ellipse cx="30.0" cy="7.5" rx="5.1" ry="6.4" fill="#fff" stroke-width="2.4" />
<ellipse cx="21.5" cy="34.1" rx="5.1" ry="6.4" fill="#fff" stroke-width="2.4" />
<ellipse cx="4.7" cy="47.6" rx="5.1" ry="6.4" fill="#fff" stroke-width="2.4" />
<ellipse cx="-13.8" cy="42.9" rx="5.1" ry="6.4" fill="#fff" stroke-width="2.4" />
<ellipse cx="-27.0" cy="21.9" rx="5.1" ry="6.4" fill="#fff" stroke-width="2.4" />
<ellipse cx="-30.0" cy="-7.5" rx="5.1" ry="6.4" fill="#fff" stroke-width="2.4" />
<ellipse cx="-21.5" cy="-34.1" rx="5.1" ry="6.4" fill="#fff" stroke-width="2.4" />
<ellipse cx="-4.7" cy="-47.6" rx="5.1" ry="6.4" fill="#fff" stroke-width="2.4" />
<ellipse cx="13.8" cy="-42.9" rx="5.1" ry="6.4" fill="#fff" stroke-width="2.4" />
<ellipse cx="27.0" cy="-21.9" rx="5.1" ry="6.4" fill="#fff" stroke-width="2.4" />
<ellipse cx="0.0" cy="0.0" rx="24.9" ry="39.6" fill="#fff" stroke-width="2.6" />
<ellipse cx="0.0" cy="0.0" rx="19.5" ry="31.0" fill="#fff" stroke-width="2.8" />
<clipPath id="k7"><ellipse cx="0" cy="0" rx="19.5" ry="31.0"/></clipPath>
<ellipse cx="21.6" cy="0.0" rx="19.5" ry="31.0" fill="none" stroke-width="2.8" clip-path="url(#k7)"/>
</g>
<g transform="translate(1075.0,810.0) rotate(-29.0)">
<path d="M0.0,-49.5 L21.0,-49.5 A25.7,49.5 0 0 1 21.0,49.5 L0.0,49.5 A25.7,49.5 0 0 1 0.0,-49.5 Z" fill="#fff" stroke-width="3" />
<ellipse cx="0.0" cy="0.0" rx="25.7" ry="49.5" fill="#fff" stroke-width="3" />
<path d="M20.8,0 A20.8,40.1 0 1 0 -20.8,0 A20.8,40.1 0 1 0 20.8,0 Z M16.2,0 A16.2,31.2 0 1 0 -16.2,0 A16.2,31.2 0 1 0 16.2,0 Z" fill="#000" fill-rule="evenodd" stroke-width="1.5"/>
<ellipse cx="18.3" cy="5.1" rx="3.6" ry="4.2" fill="#fff" stroke-width="1.2" stroke="none"/>
<ellipse cx="14.0" cy="23.3" rx="3.6" ry="4.2" fill="#fff" stroke-width="1.2" stroke="none"/>
<ellipse cx="5.2" cy="34.2" rx="3.6" ry="4.2" fill="#fff" stroke-width="1.2" stroke="none"/>
<ellipse cx="-5.2" cy="34.2" rx="3.6" ry="4.2" fill="#fff" stroke-width="1.2" stroke="none"/>
<ellipse cx="-14.0" cy="23.3" rx="3.6" ry="4.2" fill="#fff" stroke-width="1.2" stroke="none"/>
<ellipse cx="-18.3" cy="5.1" rx="3.6" ry="4.2" fill="#fff" stroke-width="1.2" stroke="none"/>
<ellipse cx="-16.9" cy="-14.8" rx="3.6" ry="4.2" fill="#fff" stroke-width="1.2" stroke="none"/>
<ellipse cx="-10.0" cy="-30.0" rx="3.6" ry="4.2" fill="#fff" stroke-width="1.2" stroke="none"/>
<ellipse cx="-0.0" cy="-35.6" rx="3.6" ry="4.2" fill="#fff" stroke-width="1.2" stroke="none"/>
<ellipse cx="10.0" cy="-30.0" rx="3.6" ry="4.2" fill="#fff" stroke-width="1.2" stroke="none"/>
<ellipse cx="16.9" cy="-14.8" rx="3.6" ry="4.2" fill="#fff" stroke-width="1.2" stroke="none"/>
<ellipse cx="0.0" cy="0.0" rx="16.2" ry="31.2" fill="#fff" stroke-width="2.6" />
<ellipse cx="0.0" cy="0.0" rx="12.9" ry="24.8" fill="#fff" stroke-width="2.8" />
<clipPath id="k8"><ellipse cx="0" cy="0" rx="12.9" ry="24.8"/></clipPath>
<ellipse cx="18.9" cy="0.0" rx="12.9" ry="24.8" fill="none" stroke-width="2.8" clip-path="url(#k8)"/>
</g>
<g transform="translate(1725.0,454.0) rotate(-29.0)">
<path d="M0.0,-49.5 L21.0,-49.5 A27.2,49.5 0 0 1 21.0,49.5 L0.0,49.5 A27.2,49.5 0 0 1 0.0,-49.5 Z" fill="#fff" stroke-width="3" />
<ellipse cx="0.0" cy="0.0" rx="27.2" ry="49.5" fill="#fff" stroke-width="3" />
<path d="M22.1,0 A22.1,40.1 0 1 0 -22.1,0 A22.1,40.1 0 1 0 22.1,0 Z M17.2,0 A17.2,31.2 0 1 0 -17.2,0 A17.2,31.2 0 1 0 17.2,0 Z" fill="#000" fill-rule="evenodd" stroke-width="1.5"/>
<ellipse cx="19.4" cy="5.1" rx="3.6" ry="4.2" fill="#fff" stroke-width="1.2" stroke="none"/>
<ellipse cx="14.8" cy="23.3" rx="3.6" ry="4.2" fill="#fff" stroke-width="1.2" stroke="none"/>
<ellipse cx="5.5" cy="34.2" rx="3.6" ry="4.2" fill="#fff" stroke-width="1.2" stroke="none"/>
<ellipse cx="-5.5" cy="34.2" rx="3.6" ry="4.2" fill="#fff" stroke-width="1.2" stroke="none"/>
<ellipse cx="-14.8" cy="23.3" rx="3.6" ry="4.2" fill="#fff" stroke-width="1.2" stroke="none"/>
<ellipse cx="-19.4" cy="5.1" rx="3.6" ry="4.2" fill="#fff" stroke-width="1.2" stroke="none"/>
<ellipse cx="-17.8" cy="-14.8" rx="3.6" ry="4.2" fill="#fff" stroke-width="1.2" stroke="none"/>
<ellipse cx="-10.6" cy="-30.0" rx="3.6" ry="4.2" fill="#fff" stroke-width="1.2" stroke="none"/>
<ellipse cx="-0.0" cy="-35.6" rx="3.6" ry="4.2" fill="#fff" stroke-width="1.2" stroke="none"/>
<ellipse cx="10.6" cy="-30.0" rx="3.6" ry="4.2" fill="#fff" stroke-width="1.2" stroke="none"/>
<ellipse cx="17.8" cy="-14.8" rx="3.6" ry="4.2" fill="#fff" stroke-width="1.2" stroke="none"/>
<ellipse cx="0.0" cy="0.0" rx="17.2" ry="31.2" fill="#fff" stroke-width="2.6" />
<ellipse cx="0.0" cy="0.0" rx="13.6" ry="24.8" fill="#fff" stroke-width="2.8" />
<clipPath id="k9"><ellipse cx="0" cy="0" rx="13.6" ry="24.8"/></clipPath>
<ellipse cx="18.9" cy="0.0" rx="13.6" ry="24.8" fill="none" stroke-width="2.8" clip-path="url(#k9)"/>
</g>
<g transform="translate(1531.0,556.0) rotate(-23)">
<path d="M93.3,1.6 L93.3,3.6 L99.1,7.2 L98.8,12.2 L92.7,14.1 L92.3,18.1 L92.0,20.0 L97.4,24.9 L96.6,29.7 L90.4,30.2 L89.6,34.0 L89.1,35.9 L94.0,42.0 L92.7,46.6 L86.4,45.6 L85.2,49.1 L84.6,50.9 L88.8,58.0 L87.0,62.3 L80.9,59.8 L79.4,63.0 L78.6,64.6 L82.0,72.7 L79.8,76.5 L74.1,72.6 L72.2,75.4 L71.3,76.8 L73.8,85.5 L71.2,88.7 L66.0,83.6 L63.8,85.9 L62.8,87.0 L64.3,96.3 L61.5,98.8 L56.8,92.5 L54.5,94.3 L53.3,95.1 L53.9,104.6 L50.8,106.5 L46.9,99.1 L44.4,100.4 L43.1,100.9 L42.7,110.4 L39.5,111.6 L36.3,103.3 L33.8,104.0 L32.5,104.2 L31.1,113.5 L27.8,113.9 L25.5,105.0 L22.9,105.0 L21.6,104.9 L19.3,113.8 L16.0,113.4 L14.7,104.0 L12.1,103.4 L10.8,103.1 L7.6,111.3 L4.4,110.1 L4.0,100.6 L1.6,99.3 L0.3,98.7 L-3.7,106.0 L-6.7,104.0 L-6.1,94.6 L-8.4,92.8 L-9.6,91.9 L-14.3,98.1 L-17.1,95.5 L-15.5,86.3 L-17.6,84.0 L-18.6,82.8 L-24.0,87.8 L-26.5,84.6 L-23.9,75.9 L-25.8,73.1 L-26.7,71.6 L-32.4,75.4 L-34.6,71.6 L-31.2,63.6 L-32.7,60.4 L-33.4,58.7 L-39.5,61.1 L-41.2,56.8 L-37.0,49.7 L-38.2,46.2 L-38.8,44.4 L-45.1,45.3 L-46.3,40.6 L-41.4,34.6 L-42.2,30.9 L-42.6,29.0 L-48.9,28.4 L-49.6,23.5 L-44.2,18.7 L-44.6,14.8 L-44.8,12.8 L-50.9,10.7 L-51.1,5.7 L-45.3,2.3 L-45.3,-1.6 L-45.3,-3.6 L-51.1,-7.2 L-50.8,-12.2 L-44.7,-14.1 L-44.3,-18.1 L-44.0,-20.0 L-49.4,-24.9 L-48.6,-29.7 L-42.4,-30.2 L-41.6,-34.0 L-41.1,-35.9 L-46.0,-42.0 L-44.7,-46.6 L-38.4,-45.6 L-37.2,-49.1 L-36.6,-50.9 L-40.8,-58.0 L-39.0,-62.3 L-32.9,-59.8 L-31.4,-63.0 L-30.6,-64.6 L-34.0,-72.7 L-31.8,-76.5 L-26.1,-72.6 L-24.2,-75.4 L-23.3,-76.8 L-25.8,-85.5 L-23.2,-88.7 L-18.0,-83.6 L-15.8,-85.9 L-14.8,-87.0 L-16.3,-96.3 L-13.5,-98.8 L-8.8,-92.5 L-6.5,-94.3 L-5.3,-95.1 L-5.9,-104.6 L-2.8,-106.5 L1.1,-99.1 L3.6,-100.4 L4.9,-100.9 L5.3,-110.4 L8.5,-111.6 L11.7,-103.3 L14.2,-104.0 L15.5,-104.2 L16.9,-113.5 L20.2,-113.9 L22.5,-105.0 L25.1,-105.0 L26.4,-104.9 L28.7,-113.8 L32.0,-113.4 L33.3,-104.0 L35.9,-103.4 L37.2,-103.1 L40.4,-111.3 L43.6,-110.1 L44.0,-100.6 L46.4,-99.3 L47.7,-98.7 L51.7,-106.0 L54.7,-104.0 L54.1,-94.6 L56.4,-92.8 L57.6,-91.9 L62.3,-98.1 L65.1,-95.5 L63.5,-86.3 L65.6,-84.0 L66.6,-82.8 L72.0,-87.8 L74.5,-84.6 L71.9,-75.9 L73.8,-73.1 L74.7,-71.6 L80.4,-75.4 L82.6,-71.6 L79.2,-63.6 L80.7,-60.4 L81.4,-58.7 L87.5,-61.1 L89.2,-56.8 L85.0,-49.7 L86.2,-46.2 L86.8,-44.4 L93.1,-45.3 L94.3,-40.6 L89.4,-34.6 L90.2,-30.9 L90.6,-29.0 L96.9,-28.4 L97.6,-23.5 L92.2,-18.7 L92.6,-14.8 L92.8,-12.8 L98.9,-10.7 L99.1,-5.7 L93.3,-2.3 Z" fill="#fff" stroke-width="3.0" />
<path d="M-62.8,44.4 L-69.1,45.3 L-45.1,45.3 L-38.8,44.4 Z" fill="#fff" stroke-width="2.6" />
<path d="M-68.7,-46.6 L-62.4,-45.6 L-38.4,-45.6 L-44.7,-46.6 Z" fill="#fff" stroke-width="2.6" />
<path d="M-57.4,58.7 L-63.5,61.1 L-39.5,61.1 L-33.4,58.7 Z" fill="#fff" stroke-width="2.6" />
<path d="M-63.0,-62.3 L-56.9,-59.8 L-32.9,-59.8 L-39.0,-62.3 Z" fill="#fff" stroke-width="2.6" />
<path d="M-50.7,71.6 L-56.4,75.4 L-32.4,75.4 L-26.7,71.6 Z" fill="#fff" stroke-width="2.6" />
<path d="M-55.8,-76.5 L-50.1,-72.6 L-26.1,-72.6 L-31.8,-76.5 Z" fill="#fff" stroke-width="2.6" />
<path d="M-42.6,82.8 L-48.0,87.8 L-24.0,87.8 L-18.6,82.8 Z" fill="#fff" stroke-width="2.6" />
<path d="M-47.2,-88.7 L-42.0,-83.6 L-18.0,-83.6 L-23.2,-88.7 Z" fill="#fff" stroke-width="2.6" />
<path d="M-33.6,91.9 L-38.3,98.1 L-14.3,98.1 L-9.6,91.9 Z" fill="#fff" stroke-width="2.6" />
<path d="M-37.5,-98.8 L-32.8,-92.5 L-8.8,-92.5 L-13.5,-98.8 Z" fill="#fff" stroke-width="2.6" />
<path d="M-23.7,98.7 L-27.7,106.0 L-3.7,106.0 L0.3,98.7 Z" fill="#fff" stroke-width="2.6" />
<path d="M-26.8,-106.5 L-22.9,-99.1 L1.1,-99.1 L-2.8,-106.5 Z" fill="#fff" stroke-width="2.6" />
<path d="M-13.2,103.1 L-16.4,111.3 L7.6,111.3 L10.8,103.1 Z" fill="#fff" stroke-width="2.6" />
<path d="M-15.5,-111.6 L-12.3,-103.3 L11.7,-103.3 L8.5,-111.6 Z" fill="#fff" stroke-width="2.6" />
<path d="M-2.4,104.9 L-4.7,113.8 L19.3,113.8 L21.6,104.9 Z" fill="#fff" stroke-width="2.6" />
<path d="M-3.8,-113.9 L-1.5,-105.0 L22.5,-105.0 L20.2,-113.9 Z" fill="#fff" stroke-width="2.6" />
<path d="M1.5,105.0 L-1.1,105.0 L22.9,105.0 L25.5,105.0 Z" fill="#fff" stroke-width="2.6" />
<path d="M1.1,-105.0 L2.4,-104.9 L26.4,-104.9 L25.1,-105.0 Z" fill="#fff" stroke-width="2.6" />
<path d="M7.1,113.5 L3.8,113.9 L27.8,113.9 L31.1,113.5 Z" fill="#fff" stroke-width="2.6" />
<path d="M4.7,-113.8 L8.0,-113.4 L32.0,-113.4 L28.7,-113.8 Z" fill="#fff" stroke-width="2.6" />
<path d="M8.5,104.2 L7.1,113.5 L31.1,113.5 L32.5,104.2 Z" fill="#fff" stroke-width="2.6" />
<path d="M8.0,-113.4 L9.3,-104.0 L33.3,-104.0 L32.0,-113.4 Z" fill="#fff" stroke-width="2.6" />
<path d="M9.8,104.0 L8.5,104.2 L32.5,104.2 L33.8,104.0 Z" fill="#fff" stroke-width="2.6" />
<path d="M9.3,-104.0 L11.9,-103.4 L35.9,-103.4 L33.3,-104.0 Z" fill="#fff" stroke-width="2.6" />
<path d="M12.3,103.3 L9.8,104.0 L33.8,104.0 L36.3,103.3 Z" fill="#fff" stroke-width="2.6" />
<path d="M11.9,-103.4 L13.2,-103.1 L37.2,-103.1 L35.9,-103.4 Z" fill="#fff" stroke-width="2.6" />
<path d="M18.7,110.4 L15.5,111.6 L39.5,111.6 L42.7,110.4 Z" fill="#fff" stroke-width="2.6" />
<path d="M16.4,-111.3 L19.6,-110.1 L43.6,-110.1 L40.4,-111.3 Z" fill="#fff" stroke-width="2.6" />
<path d="M19.1,100.9 L18.7,110.4 L42.7,110.4 L43.1,100.9 Z" fill="#fff" stroke-width="2.6" />
<path d="M20.4,100.4 L19.1,100.9 L43.1,100.9 L44.4,100.4 Z" fill="#fff" stroke-width="2.6" />
<path d="M19.6,-110.1 L20.0,-100.6 L44.0,-100.6 L43.6,-110.1 Z" fill="#fff" stroke-width="2.6" />
<path d="M20.0,-100.6 L22.4,-99.3 L46.4,-99.3 L44.0,-100.6 Z" fill="#fff" stroke-width="2.6" />
<path d="M22.9,99.1 L20.4,100.4 L44.4,100.4 L46.9,99.1 Z" fill="#fff" stroke-width="2.6" />
<path d="M22.4,-99.3 L23.7,-98.7 L47.7,-98.7 L46.4,-99.3 Z" fill="#fff" stroke-width="2.6" />
<path d="M29.9,104.6 L26.8,106.5 L50.8,106.5 L53.9,104.6 Z" fill="#fff" stroke-width="2.6" />
<path d="M27.7,-106.0 L30.7,-104.0 L54.7,-104.0 L51.7,-106.0 Z" fill="#fff" stroke-width="2.6" />
<path d="M29.3,95.1 L29.9,104.6 L53.9,104.6 L53.3,95.1 Z" fill="#fff" stroke-width="2.6" />
<path d="M30.5,94.3 L29.3,95.1 L53.3,95.1 L54.5,94.3 Z" fill="#fff" stroke-width="2.6" />
<path d="M30.7,-104.0 L30.1,-94.6 L54.1,-94.6 L54.7,-104.0 Z" fill="#fff" stroke-width="2.6" />
<path d="M30.1,-94.6 L32.4,-92.8 L56.4,-92.8 L54.1,-94.6 Z" fill="#fff" stroke-width="2.6" />
<path d="M32.8,92.5 L30.5,94.3 L54.5,94.3 L56.8,92.5 Z" fill="#fff" stroke-width="2.6" />
<path d="M32.4,-92.8 L33.6,-91.9 L57.6,-91.9 L56.4,-92.8 Z" fill="#fff" stroke-width="2.6" />
<path d="M40.3,96.3 L37.5,98.8 L61.5,98.8 L64.3,96.3 Z" fill="#fff" stroke-width="2.6" />
<path d="M39.8,85.9 L38.8,87.0 L62.8,87.0 L63.8,85.9 Z" fill="#fff" stroke-width="2.6" />
<path d="M38.8,87.0 L40.3,96.3 L64.3,96.3 L62.8,87.0 Z" fill="#fff" stroke-width="2.6" />
<path d="M38.3,-98.1 L41.1,-95.5 L65.1,-95.5 L62.3,-98.1 Z" fill="#fff" stroke-width="2.6" />
<path d="M41.1,-95.5 L39.5,-86.3 L63.5,-86.3 L65.1,-95.5 Z" fill="#fff" stroke-width="2.6" />
<path d="M39.5,-86.3 L41.6,-84.0 L65.6,-84.0 L63.5,-86.3 Z" fill="#fff" stroke-width="2.6" />
<path d="M42.0,83.6 L39.8,85.9 L63.8,85.9 L66.0,83.6 Z" fill="#fff" stroke-width="2.6" />
<path d="M41.6,-84.0 L42.6,-82.8 L66.6,-82.8 L65.6,-84.0 Z" fill="#fff" stroke-width="2.6" />
<path d="M48.2,75.4 L47.3,76.8 L71.3,76.8 L72.2,75.4 Z" fill="#fff" stroke-width="2.6" />
<path d="M49.8,85.5 L47.2,88.7 L71.2,88.7 L73.8,85.5 Z" fill="#fff" stroke-width="2.6" />
<path d="M47.3,76.8 L49.8,85.5 L73.8,85.5 L71.3,76.8 Z" fill="#fff" stroke-width="2.6" />
<path d="M47.9,-75.9 L49.8,-73.1 L73.8,-73.1 L71.9,-75.9 Z" fill="#fff" stroke-width="2.6" />
<path d="M50.1,72.6 L48.2,75.4 L72.2,75.4 L74.1,72.6 Z" fill="#fff" stroke-width="2.6" />
<path d="M50.5,-84.6 L47.9,-75.9 L71.9,-75.9 L74.5,-84.6 Z" fill="#fff" stroke-width="2.6" />
<path d="M48.0,-87.8 L50.5,-84.6 L74.5,-84.6 L72.0,-87.8 Z" fill="#fff" stroke-width="2.6" />
<path d="M49.8,-73.1 L50.7,-71.6 L74.7,-71.6 L73.8,-73.1 Z" fill="#fff" stroke-width="2.6" />
<path d="M55.4,63.0 L54.6,64.6 L78.6,64.6 L79.4,63.0 Z" fill="#fff" stroke-width="2.6" />
<path d="M55.2,-63.6 L56.7,-60.4 L80.7,-60.4 L79.2,-63.6 Z" fill="#fff" stroke-width="2.6" />
<path d="M56.9,59.8 L55.4,63.0 L79.4,63.0 L80.9,59.8 Z" fill="#fff" stroke-width="2.6" />
<path d="M54.6,64.6 L58.0,72.7 L82.0,72.7 L78.6,64.6 Z" fill="#fff" stroke-width="2.6" />
<path d="M58.6,-71.6 L55.2,-63.6 L79.2,-63.6 L82.6,-71.6 Z" fill="#fff" stroke-width="2.6" />
<path d="M58.0,72.7 L55.8,76.5 L79.8,76.5 L82.0,72.7 Z" fill="#fff" stroke-width="2.6" />
<path d="M56.7,-60.4 L57.4,-58.7 L81.4,-58.7 L80.7,-60.4 Z" fill="#fff" stroke-width="2.6" />
<path d="M56.4,-75.4 L58.6,-71.6 L82.6,-71.6 L80.4,-75.4 Z" fill="#fff" stroke-width="2.6" />
<path d="M61.2,49.1 L60.6,50.9 L84.6,50.9 L85.2,49.1 Z" fill="#fff" stroke-width="2.6" />
<path d="M61.0,-49.7 L62.2,-46.2 L86.2,-46.2 L85.0,-49.7 Z" fill="#fff" stroke-width="2.6" />
<path d="M62.4,45.6 L61.2,49.1 L85.2,49.1 L86.4,45.6 Z" fill="#fff" stroke-width="2.6" />
<path d="M62.2,-46.2 L62.8,-44.4 L86.8,-44.4 L86.2,-46.2 Z" fill="#fff" stroke-width="2.6" />
<path d="M60.6,50.9 L64.8,58.0 L88.8,58.0 L84.6,50.9 Z" fill="#fff" stroke-width="2.6" />
<path d="M65.2,-56.8 L61.0,-49.7 L85.0,-49.7 L89.2,-56.8 Z" fill="#fff" stroke-width="2.6" />
<path d="M64.8,58.0 L63.0,62.3 L87.0,62.3 L88.8,58.0 Z" fill="#fff" stroke-width="2.6" />
<path d="M63.5,-61.1 L65.2,-56.8 L89.2,-56.8 L87.5,-61.1 Z" fill="#fff" stroke-width="2.6" />
<path d="M65.6,34.0 L65.1,35.9 L89.1,35.9 L89.6,34.0 Z" fill="#fff" stroke-width="2.6" />
<path d="M65.4,-34.6 L66.2,-30.9 L90.2,-30.9 L89.4,-34.6 Z" fill="#fff" stroke-width="2.6" />
<path d="M66.4,30.2 L65.6,34.0 L89.6,34.0 L90.4,30.2 Z" fill="#fff" stroke-width="2.6" />
<path d="M66.2,-30.9 L66.6,-29.0 L90.6,-29.0 L90.2,-30.9 Z" fill="#fff" stroke-width="2.6" />
<path d="M65.1,35.9 L70.0,42.0 L94.0,42.0 L89.1,35.9 Z" fill="#fff" stroke-width="2.6" />
<path d="M70.3,-40.6 L65.4,-34.6 L89.4,-34.6 L94.3,-40.6 Z" fill="#fff" stroke-width="2.6" />
<path d="M68.3,18.1 L68.0,20.0 L92.0,20.0 L92.3,18.1 Z" fill="#fff" stroke-width="2.6" />
<path d="M68.2,-18.7 L68.6,-14.8 L92.6,-14.8 L92.2,-18.7 Z" fill="#fff" stroke-width="2.6" />
<path d="M68.7,14.1 L68.3,18.1 L92.3,18.1 L92.7,14.1 Z" fill="#fff" stroke-width="2.6" />
<path d="M68.6,-14.8 L68.8,-12.8 L92.8,-12.8 L92.6,-14.8 Z" fill="#fff" stroke-width="2.6" />
<path d="M69.3,1.6 L69.3,3.6 L93.3,3.6 L93.3,1.6 Z" fill="#fff" stroke-width="2.6" />
<path d="M69.3,-2.3 L69.3,1.6 L93.3,1.6 L93.3,-2.3 Z" fill="#fff" stroke-width="2.6" />
<path d="M70.0,42.0 L68.7,46.6 L92.7,46.6 L94.0,42.0 Z" fill="#fff" stroke-width="2.6" />
<path d="M72.6,29.7 L66.4,30.2 L90.4,30.2 L96.6,29.7 Z" fill="#fff" stroke-width="2.6" />
<path d="M69.1,-45.3 L70.3,-40.6 L94.3,-40.6 L93.1,-45.3 Z" fill="#fff" stroke-width="2.6" />
<path d="M66.6,-29.0 L72.9,-28.4 L96.9,-28.4 L90.6,-29.0 Z" fill="#fff" stroke-width="2.6" />
<path d="M68.0,20.0 L73.4,24.9 L97.4,24.9 L92.0,20.0 Z" fill="#fff" stroke-width="2.6" />
<path d="M73.6,-23.5 L68.2,-18.7 L92.2,-18.7 L97.6,-23.5 Z" fill="#fff" stroke-width="2.6" />
<path d="M74.8,12.2 L68.7,14.1 L92.7,14.1 L98.8,12.2 Z" fill="#fff" stroke-width="2.6" />
<path d="M68.8,-12.8 L74.9,-10.7 L98.9,-10.7 L92.8,-12.8 Z" fill="#fff" stroke-width="2.6" />
<path d="M69.3,3.6 L75.1,7.2 L99.1,7.2 L93.3,3.6 Z" fill="#fff" stroke-width="2.6" />
<path d="M75.1,-5.7 L69.3,-2.3 L93.3,-2.3 L99.1,-5.7 Z" fill="#fff" stroke-width="2.6" />
<path d="M73.4,24.9 L72.6,29.7 L96.6,29.7 L97.4,24.9 Z" fill="#fff" stroke-width="2.6" />
<path d="M72.9,-28.4 L73.6,-23.5 L97.6,-23.5 L96.9,-28.4 Z" fill="#fff" stroke-width="2.6" />
<path d="M75.1,7.2 L74.8,12.2 L98.8,12.2 L99.1,7.2 Z" fill="#fff" stroke-width="2.6" />
<path d="M74.9,-10.7 L75.1,-5.7 L99.1,-5.7 L98.9,-10.7 Z" fill="#fff" stroke-width="2.6" />
<path d="M69.3,1.6 L69.3,3.6 L75.1,7.2 L74.8,12.2 L68.7,14.1 L68.3,18.1 L68.0,20.0 L73.4,24.9 L72.6,29.7 L66.4,30.2 L65.6,34.0 L65.1,35.9 L70.0,42.0 L68.7,46.6 L62.4,45.6 L61.2,49.1 L60.6,50.9 L64.8,58.0 L63.0,62.3 L56.9,59.8 L55.4,63.0 L54.6,64.6 L58.0,72.7 L55.8,76.5 L50.1,72.6 L48.2,75.4 L47.3,76.8 L49.8,85.5 L47.2,88.7 L42.0,83.6 L39.8,85.9 L38.8,87.0 L40.3,96.3 L37.5,98.8 L32.8,92.5 L30.5,94.3 L29.3,95.1 L29.9,104.6 L26.8,106.5 L22.9,99.1 L20.4,100.4 L19.1,100.9 L18.7,110.4 L15.5,111.6 L12.3,103.3 L9.8,104.0 L8.5,104.2 L7.1,113.5 L3.8,113.9 L1.5,105.0 L-1.1,105.0 L-2.4,104.9 L-4.7,113.8 L-8.0,113.4 L-9.3,104.0 L-11.9,103.4 L-13.2,103.1 L-16.4,111.3 L-19.6,110.1 L-20.0,100.6 L-22.4,99.3 L-23.7,98.7 L-27.7,106.0 L-30.7,104.0 L-30.1,94.6 L-32.4,92.8 L-33.6,91.9 L-38.3,98.1 L-41.1,95.5 L-39.5,86.3 L-41.6,84.0 L-42.6,82.8 L-48.0,87.8 L-50.5,84.6 L-47.9,75.9 L-49.8,73.1 L-50.7,71.6 L-56.4,75.4 L-58.6,71.6 L-55.2,63.6 L-56.7,60.4 L-57.4,58.7 L-63.5,61.1 L-65.2,56.8 L-61.0,49.7 L-62.2,46.2 L-62.8,44.4 L-69.1,45.3 L-70.3,40.6 L-65.4,34.6 L-66.2,30.9 L-66.6,29.0 L-72.9,28.4 L-73.6,23.5 L-68.2,18.7 L-68.6,14.8 L-68.8,12.8 L-74.9,10.7 L-75.1,5.7 L-69.3,2.3 L-69.3,-1.6 L-69.3,-3.6 L-75.1,-7.2 L-74.8,-12.2 L-68.7,-14.1 L-68.3,-18.1 L-68.0,-20.0 L-73.4,-24.9 L-72.6,-29.7 L-66.4,-30.2 L-65.6,-34.0 L-65.1,-35.9 L-70.0,-42.0 L-68.7,-46.6 L-62.4,-45.6 L-61.2,-49.1 L-60.6,-50.9 L-64.8,-58.0 L-63.0,-62.3 L-56.9,-59.8 L-55.4,-63.0 L-54.6,-64.6 L-58.0,-72.7 L-55.8,-76.5 L-50.1,-72.6 L-48.2,-75.4 L-47.3,-76.8 L-49.8,-85.5 L-47.2,-88.7 L-42.0,-83.6 L-39.8,-85.9 L-38.8,-87.0 L-40.3,-96.3 L-37.5,-98.8 L-32.8,-92.5 L-30.5,-94.3 L-29.3,-95.1 L-29.9,-104.6 L-26.8,-106.5 L-22.9,-99.1 L-20.4,-100.4 L-19.1,-100.9 L-18.7,-110.4 L-15.5,-111.6 L-12.3,-103.3 L-9.8,-104.0 L-8.5,-104.2 L-7.1,-113.5 L-3.8,-113.9 L-1.5,-105.0 L1.1,-105.0 L2.4,-104.9 L4.7,-113.8 L8.0,-113.4 L9.3,-104.0 L11.9,-103.4 L13.2,-103.1 L16.4,-111.3 L19.6,-110.1 L20.0,-100.6 L22.4,-99.3 L23.7,-98.7 L27.7,-106.0 L30.7,-104.0 L30.1,-94.6 L32.4,-92.8 L33.6,-91.9 L38.3,-98.1 L41.1,-95.5 L39.5,-86.3 L41.6,-84.0 L42.6,-82.8 L48.0,-87.8 L50.5,-84.6 L47.9,-75.9 L49.8,-73.1 L50.7,-71.6 L56.4,-75.4 L58.6,-71.6 L55.2,-63.6 L56.7,-60.4 L57.4,-58.7 L63.5,-61.1 L65.2,-56.8 L61.0,-49.7 L62.2,-46.2 L62.8,-44.4 L69.1,-45.3 L70.3,-40.6 L65.4,-34.6 L66.2,-30.9 L66.6,-29.0 L72.9,-28.4 L73.6,-23.5 L68.2,-18.7 L68.6,-14.8 L68.8,-12.8 L74.9,-10.7 L75.1,-5.7 L69.3,-2.3 Z" fill="#fff" stroke-width="3.0" />
<ellipse cx="0.0" cy="0.0" rx="62.0" ry="94.0" fill="none" stroke-width="2.6" />
<ellipse cx="0.0" cy="0.0" rx="60.1" ry="91.0" fill="none" stroke-width="1.5" />
<ellipse cx="0.0" cy="0.0" rx="22.3" ry="36.0" fill="#fff" stroke-width="2.5" />
<ellipse cx="0.0" cy="0.0" rx="18.6" ry="30.0" fill="#fff" stroke-width="2.2" />
<clipPath id="k10"><ellipse cx="0" cy="0" rx="18.6" ry="30"/></clipPath>
<g clip-path="url(#k10)">
<line x1="-30.0" y1="-28.0" x2="40.0" y2="-28.0" stroke-width="1.4"/>
<line x1="-30.0" y1="-24.0" x2="40.0" y2="-24.0" stroke-width="1.4"/>
<line x1="-30.0" y1="-20.0" x2="40.0" y2="-20.0" stroke-width="1.4"/>
<line x1="-30.0" y1="-16.0" x2="40.0" y2="-16.0" stroke-width="1.4"/>
<line x1="-30.0" y1="-12.0" x2="40.0" y2="-12.0" stroke-width="1.4"/>
<line x1="-30.0" y1="-8.0" x2="40.0" y2="-8.0" stroke-width="1.4"/>
<line x1="-30.0" y1="-4.0" x2="40.0" y2="-4.0" stroke-width="1.4"/>
<line x1="-30.0" y1="0.0" x2="40.0" y2="0.0" stroke-width="1.4"/>
<line x1="-30.0" y1="4.0" x2="40.0" y2="4.0" stroke-width="1.4"/>
<line x1="-30.0" y1="8.0" x2="40.0" y2="8.0" stroke-width="1.4"/>
<line x1="-30.0" y1="12.0" x2="40.0" y2="12.0" stroke-width="1.4"/>
<line x1="-30.0" y1="16.0" x2="40.0" y2="16.0" stroke-width="1.4"/>
<line x1="-30.0" y1="20.0" x2="40.0" y2="20.0" stroke-width="1.4"/>
<line x1="-30.0" y1="24.0" x2="40.0" y2="24.0" stroke-width="1.4"/>
<line x1="-30.0" y1="28.0" x2="40.0" y2="28.0" stroke-width="1.4"/>
<ellipse cx="10.0" cy="0.0" rx="18.6" ry="30.0" fill="none" stroke-width="2" />
</g>
</g>
<g transform="translate(314.0,886.0) rotate(-29.0)">
<path d="M300.0,-30.0 L372.0,-30.0 A17.4,30.0 0 0 1 372.0,30.0 L300.0,30.0 A17.4,30.0 0 0 1 300.0,-30.0 Z" fill="#fff" stroke-width="2.5" />
<path d="M372.0,-30.0 A17.4,30.0 0 0 1 372.0,30.0" fill="none" stroke-width="2.5" />
<path d="M270.0,-38.0 L322.0,-38.0 A22.0,38.0 0 0 1 322.0,38.0 L270.0,38.0 A22.0,38.0 0 0 1 270.0,-38.0 Z" fill="#fff" stroke-width="2.5" />
<path d="M322.0,-38.0 A22.0,38.0 0 0 1 322.0,38.0" fill="none" stroke-width="2.5" />
</g>
<path d="M399.0,728.0 C405.8,721.1 423.3,714.6 432.5,708.6 C441.7,702.6 448.2,697.4 454.0,692.0 C459.8,686.6 460.7,681.0 467.0,676.5 C473.3,672.0 482.0,666.6 492.0,665.0 C502.0,663.4 518.1,665.1 527.0,667.0 C535.9,668.9 539.9,672.1 545.6,676.6 C551.3,681.1 556.3,688.4 561.0,693.8 C565.7,699.1 569.6,703.3 573.8,709.0 C577.9,714.7 582.4,720.9 586.0,728.0 C589.6,735.1 592.7,743.8 595.6,751.6 C598.5,759.4 601.6,766.9 603.4,775.0 C605.2,783.1 606.3,791.8 606.6,800.0 C606.9,808.2 606.8,816.2 605.0,824.5 C603.2,832.8 600.2,843.4 596.0,850.0 C591.8,856.6 586.5,860.7 580.0,864.0 C573.5,867.3 579.7,861.3 557.0,870.0 C534.3,878.7 464.2,909.0 444.0,916.0 C423.8,923.0 445.8,918.5 436.0,911.7 C426.2,904.9 393.7,883.3 385.0,875.0 C376.3,866.7 383.3,874.5 384.0,862.0 C384.7,849.5 387.7,818.7 389.0,800.0 C390.3,781.3 390.3,762.0 392.0,750.0 C393.7,738.0 392.2,734.9 399.0,728.0 Z" fill="#fff" stroke-width="2.8" />
<path d="M562.0,697.0 C565.0,700.1 574.9,707.8 580.0,715.6 C585.1,723.4 588.8,733.9 592.5,743.8 C596.2,753.6 599.9,765.6 602.0,775.0 C604.1,784.4 604.8,791.7 605.0,800.0 C605.2,808.3 605.0,816.7 603.0,825.0 C601.0,833.3 597.3,843.5 593.0,850.0 C588.7,856.5 579.7,861.7 577.0,864.0" fill="none" stroke-width="2" />
<path d="M556.0,720.0 C559.0,724.5 568.8,737.8 573.8,747.0 C578.8,756.2 583.5,766.2 586.0,775.0 C588.5,783.8 588.7,790.8 589.0,800.0 C589.3,809.2 589.5,820.8 588.0,830.0 C586.5,839.2 583.0,849.0 580.0,855.0 C577.0,861.0 571.7,864.2 570.0,866.0" fill="none" stroke-width="2" />
<path d="M399.0,728.0 L448.0,753.0 L485.6,735.0" fill="none" stroke-width="2.5" />
<path d="M393.4,750.0 L437.0,775.0 L448.0,753.0" fill="none" stroke-width="2" />
<path d="M437.0,775.0 L437.0,912.0" fill="none" stroke-width="2.5" />
<ellipse cx="469.5" cy="716.0" rx="33.0" ry="17.0" fill="#fff" stroke-width="2.5" />
<path d="M436.5,716 A33,17 0 0 0 503,716" fill="none" stroke-width="2.5" />
<ellipse cx="469.5" cy="712.0" rx="33.0" ry="17.0" fill="#fff" stroke-width="2.5" />
<ellipse cx="469.0" cy="708.5" rx="18.0" ry="10.0" transform="rotate(5 469.0 708.5)" fill="none" stroke-width="2.5"/>
<path d="M465.0,688.0 C469.0,685.5 480.2,674.4 489.0,673.0 C497.8,671.6 515.3,676.8 517.5,679.7 C519.7,682.6 508.2,688.6 502.0,690.6 C495.8,692.6 486.2,692.4 480.0,692.0 C473.8,691.6 467.5,688.7 465.0,688.0" fill="#fff" stroke-width="2.5" />
<path d="M502.0,700.0 L527.0,687.5 L547.0,708.0 L542.5,712.5 L502.0,726.6 L505.0,712.5 Z" fill="#fff" stroke-width="2.5" />
<path d="M506.0,703.0 L527.0,692.0 L543.0,709.0" fill="none" stroke-width="1.6" />
<path d="M456.0,770.0 L530.0,734.0 L555.0,720.0 L560.0,723.0 L560.0,733.0 L502.0,756.0" fill="none" stroke-width="2.5" />
<path d="M500.0,728.0 L556.6,719.5" fill="none" stroke-width="2" />
<path d="M453.0,775.0 L453.0,895.0" fill="none" stroke-width="2.5" />
<path d="M453.0,775.0 L461.0,768.0 L556.0,727.0" fill="none" stroke-width="2.5" />
<path d="M457.0,789.0 L470.0,813.0" fill="none" stroke-width="2" />
<path d="M453.0,826.0 L481.0,809.0 L557.0,851.0 L557.0,869.0" fill="none" stroke-width="2.5" />
<path d="M453.0,895.0 L557.0,852.0" fill="none" stroke-width="2.5" />
<path d="M453,858 A16,13 0 0 1 485,858 A16,13 0 0 1 453,862" fill="none" stroke-width="2.2" />
<ellipse cx="518.6" cy="768.0" rx="13.0" ry="18.0" transform="rotate(-20 518.6 768.0)" fill="none" stroke-width="2.5"/>
<ellipse cx="476.0" cy="782.0" rx="6.5" ry="9.5" transform="rotate(-20 476.0 782.0)" fill="none" stroke-width="3.2"/>
<ellipse cx="476.0" cy="782.0" rx="2.8" ry="5.5" transform="rotate(-20 476.0 782.0)" fill="none" stroke-width="2.2"/>
<ellipse cx="561.0" cy="747.0" rx="6.5" ry="9.5" transform="rotate(-20 561.0 747.0)" fill="none" stroke-width="3.2"/>
<ellipse cx="561.0" cy="747.0" rx="2.8" ry="5.5" transform="rotate(-20 561.0 747.0)" fill="none" stroke-width="2.2"/>
<ellipse cx="566.0" cy="834.0" rx="6.5" ry="9.5" transform="rotate(-20 566.0 834.0)" fill="none" stroke-width="3.2"/>
<ellipse cx="566.0" cy="834.0" rx="2.8" ry="5.5" transform="rotate(-20 566.0 834.0)" fill="none" stroke-width="2.2"/>
<g transform="translate(314.0,882.5) rotate(-29.0)">
<path d="M88.0,-37.0 L112.0,-37.0 A22.9,37.0 0 0 1 112.0,37.0 L88.0,37.0 A22.9,37.0 0 0 1 88.0,-37.0 Z" fill="#fff" stroke-width="2.5" />
<path d="M82.0,-28.0 L105.0,-28.0 A18.2,28.0 0 0 1 105.0,28.0 L82.0,28.0 A18.2,28.0 0 0 1 82.0,-28.0 Z" fill="#fff" stroke-width="2.5" />
<ellipse cx="82.0" cy="0.0" rx="18.2" ry="28.0" fill="#fff" stroke-width="2.5" />
<ellipse cx="82.0" cy="0.0" rx="13.7" ry="21.0" fill="#fff" stroke-width="2.2" />
<ellipse cx="82.0" cy="0.0" rx="11.1" ry="17.0" fill="none" stroke-width="1.6" />
</g>
<g transform="translate(314.0,886.0) rotate(-29.0)">
<path d="M0.0,-70.0 L21.0,-70.0 A37.8,70.0 0 0 1 21.0,70.0 L0.0,70.0 A37.8,70.0 0 0 1 0.0,-70.0 Z" fill="#fff" stroke-width="3" />
<ellipse cx="0.0" cy="0.0" rx="37.8" ry="70.0" fill="#fff" stroke-width="3" />
<ellipse cx="0.0" cy="0.0" rx="32.5" ry="60.2" fill="none" stroke-width="2.6" />
<ellipse cx="27.3" cy="8.0" rx="5.5" ry="6.8" fill="#fff" stroke-width="2.4" />
<ellipse cx="19.5" cy="36.1" rx="5.5" ry="6.8" fill="#fff" stroke-width="2.4" />
<ellipse cx="4.3" cy="50.5" rx="5.5" ry="6.8" fill="#fff" stroke-width="2.4" />
<ellipse cx="-12.5" cy="45.5" rx="5.5" ry="6.8" fill="#fff" stroke-width="2.4" />
<ellipse cx="-24.6" cy="23.2" rx="5.5" ry="6.8" fill="#fff" stroke-width="2.4" />
<ellipse cx="-27.3" cy="-8.0" rx="5.5" ry="6.8" fill="#fff" stroke-width="2.4" />
<ellipse cx="-19.5" cy="-36.1" rx="5.5" ry="6.8" fill="#fff" stroke-width="2.4" />
<ellipse cx="-4.3" cy="-50.5" rx="5.5" ry="6.8" fill="#fff" stroke-width="2.4" />
<ellipse cx="12.5" cy="-45.5" rx="5.5" ry="6.8" fill="#fff" stroke-width="2.4" />
<ellipse cx="24.6" cy="-23.2" rx="5.5" ry="6.8" fill="#fff" stroke-width="2.4" />
<ellipse cx="0.0" cy="0.0" rx="22.7" ry="42.0" fill="#fff" stroke-width="2.6" />
<ellipse cx="0.0" cy="0.0" rx="17.8" ry="32.9" fill="#fff" stroke-width="2.8" />
<clipPath id="k11"><ellipse cx="0" cy="0" rx="17.8" ry="32.9"/></clipPath>
<ellipse cx="18.9" cy="0.0" rx="17.8" ry="32.9" fill="none" stroke-width="2.8" clip-path="url(#k11)"/>
</g>
<g transform="translate(261.0,918.0) rotate(-29.0)">
<path d="M0.0,-30.0 L4.0,-30.0 A18.0,30.0 0 0 1 4.0,30.0 L0.0,30.0 A18.0,30.0 0 0 1 0.0,-30.0 Z" fill="#fff" stroke-width="2.5" />
<ellipse cx="0.0" cy="0.0" rx="18.0" ry="30.0" fill="#fff" stroke-width="2.5" />
<ellipse cx="0.0" cy="0.0" rx="10.5" ry="17.5" fill="#fff" stroke-width="2.5" />
<clipPath id="k12"><ellipse cx="0" cy="0" rx="10.5" ry="17.5"/></clipPath>
<ellipse cx="4.0" cy="0.0" rx="10.5" ry="17.5" fill="none" stroke-width="1.6" clip-path="url(#k12)"/>
</g>
<path d="M208.0,437.5 A40.5,22.5 0 0 1 289.0,437.5 L298.0,446 L298.0,455 L298.0,454.0 L295.8,462.9 L295.4,456.4 L295.1,457.6 L294.6,458.9 L292.2,467.6 L287.5,466.2 L285.8,467.2 L283.9,468.1 L282.2,474.8 L274.8,477.9 L269.2,473.0 L266.5,473.5 L263.7,473.9 L259.6,481.3 L250.3,482.0 L245.3,475.0 L242.4,474.8 L239.5,474.6 L233.9,480.8 L225.3,478.9 L222.3,471.6 L219.9,470.9 L217.6,470.1 L212.2,473.4 L206.6,469.3 L206.3,463.8 L205.1,462.7 L204.0,461.5 L200.2,461.0 L199.0,456.0 L199.0,455 L200.5,444 Z" fill="#fff" stroke-width="2.8" />
<path d="M290.6,457.6 L288.7,442.4 L299.6,457.6" fill="none" stroke-width="2.2" />
<path d="M281.3,467.2 L280.6,453.2 L290.3,467.2" fill="none" stroke-width="2.2" />
<path d="M262.0,473.5 L264.0,460.3 L271.0,473.5" fill="none" stroke-width="2.2" />
<path d="M237.9,474.8 L243.2,461.8 L246.9,474.8" fill="none" stroke-width="2.2" />
<path d="M215.4,470.9 L223.8,457.4 L224.4,470.9" fill="none" stroke-width="2.2" />
<path d="M200.6,462.7 L211.1,448.1 L209.6,462.7" fill="none" stroke-width="2.2" />
<ellipse cx="248.5" cy="437.5" rx="40.5" ry="22.5" fill="#fff" stroke-width="2.8" />
<ellipse cx="248.0" cy="437.5" rx="17.0" ry="9.7" fill="none" stroke-width="2.8" />
<path d="M205,698 L199,723 A51,30 0 0 0 301,723 L295,698 Z" fill="#fff" stroke-width="2.8" />
<path d="M285.7,692.9 L293.3,692.5 L297.1,715.4 L291.3,715.2 Z" fill="#fff" stroke-width="2.4" />
<path d="M293.3,692.5 L294.3,694.5 L298.3,717.8 L297.1,715.4 Z" fill="#fff" stroke-width="2.4" />
<path d="M294.3,694.5 L287.8,696.4 L293.8,719.9 L298.3,717.8 Z" fill="#fff" stroke-width="2.4" />
<path d="M287.8,696.4 L288.0,698.0 L294.0,722.0 L293.8,719.9 Z" fill="#fff" stroke-width="2.4" />
<path d="M212.0,698.0 L205.1,696.6 L201.1,720.3 L206.0,722.0 Z" fill="#fff" stroke-width="2.4" />
<path d="M288.0,698.0 L294.9,699.4 L298.9,723.7 L294.0,722.0 Z" fill="#fff" stroke-width="2.4" />
<path d="M212.2,699.6 L212.0,698.0 L206.0,722.0 L206.2,724.1 Z" fill="#fff" stroke-width="2.4" />
<path d="M294.9,699.4 L294.3,701.5 L298.3,726.2 L298.9,723.7 Z" fill="#fff" stroke-width="2.4" />
<path d="M205.7,701.5 L212.2,699.6 L206.2,724.1 L201.7,726.2 Z" fill="#fff" stroke-width="2.4" />
<path d="M294.3,701.5 L286.9,701.6 L292.7,726.8 L298.3,726.2 Z" fill="#fff" stroke-width="2.4" />
<path d="M286.9,701.6 L285.7,703.1 L291.3,728.8 L292.7,726.8 Z" fill="#fff" stroke-width="2.4" />
<path d="M206.7,703.5 L205.7,701.5 L201.7,726.2 L202.9,728.6 Z" fill="#fff" stroke-width="2.4" />
<path d="M214.3,703.1 L206.7,703.5 L202.9,728.6 L208.7,728.8 Z" fill="#fff" stroke-width="2.4" />
<path d="M215.8,704.6 L214.3,703.1 L208.7,728.8 L210.5,730.8 Z" fill="#fff" stroke-width="2.4" />
<path d="M285.7,703.1 L291.1,706.1 L294.8,731.8 L291.3,728.8 Z" fill="#fff" stroke-width="2.4" />
<path d="M211.0,708.0 L215.8,704.6 L210.5,730.8 L207.6,734.0 Z" fill="#fff" stroke-width="2.4" />
<path d="M281.5,706.4 L279.1,707.6 L283.7,734.9 L286.5,733.2 Z" fill="#fff" stroke-width="2.4" />
<path d="M291.1,706.1 L289.0,708.0 L292.4,734.0 L294.8,731.8 Z" fill="#fff" stroke-width="2.4" />
<path d="M289.0,708.0 L281.5,706.4 L286.5,733.2 L292.4,734.0 Z" fill="#fff" stroke-width="2.4" />
<path d="M223.6,708.8 L220.9,707.6 L216.3,734.9 L219.4,736.4 Z" fill="#fff" stroke-width="2.4" />
<path d="M220.9,707.6 L213.6,709.8 L210.4,736.1 L216.3,734.9 Z" fill="#fff" stroke-width="2.4" />
<path d="M213.6,709.8 L211.0,708.0 L207.6,734.0 L210.4,736.1 Z" fill="#fff" stroke-width="2.4" />
<path d="M279.1,707.6 L282.4,711.9 L285.2,738.7 L283.7,734.9 Z" fill="#fff" stroke-width="2.4" />
<path d="M272.3,710.1 L269.0,711.0 L272.0,739.3 L275.9,738.2 Z" fill="#fff" stroke-width="2.4" />
<path d="M221.1,713.3 L223.6,708.8 L219.4,736.4 L218.5,740.4 Z" fill="#fff" stroke-width="2.4" />
<path d="M234.5,711.7 L231.0,711.0 L228.0,739.3 L232.1,740.3 Z" fill="#fff" stroke-width="2.4" />
<path d="M278.9,713.3 L272.3,710.1 L275.9,738.2 L281.5,740.4 Z" fill="#fff" stroke-width="2.4" />
<path d="M260.5,712.4 L256.6,712.8 L257.6,741.7 L262.1,741.2 Z" fill="#fff" stroke-width="2.4" />
<path d="M282.4,711.9 L278.9,713.3 L281.5,740.4 L285.2,738.7 Z" fill="#fff" stroke-width="2.4" />
<path d="M231.0,711.0 L224.8,714.6 L222.6,741.9 L228.0,739.3 Z" fill="#fff" stroke-width="2.4" />
<path d="M247.3,713.0 L243.4,712.8 L242.4,741.7 L246.9,742.0 Z" fill="#fff" stroke-width="2.4" />
<path d="M269.0,711.0 L269.7,716.0 L271.5,743.6 L272.0,739.3 Z" fill="#fff" stroke-width="2.4" />
<path d="M224.8,714.6 L221.1,713.3 L218.5,740.4 L222.6,741.9 Z" fill="#fff" stroke-width="2.4" />
<path d="M234.6,716.8 L234.5,711.7 L232.1,740.3 L233.2,744.6 Z" fill="#fff" stroke-width="2.4" />
<path d="M265.4,716.8 L260.5,712.4 L262.1,741.2 L266.8,744.6 Z" fill="#fff" stroke-width="2.4" />
<path d="M243.4,712.8 L239.1,717.4 L238.1,745.3 L242.4,741.7 Z" fill="#fff" stroke-width="2.4" />
<path d="M256.6,712.8 L254.7,717.9 L255.1,745.9 L257.6,741.7 Z" fill="#fff" stroke-width="2.4" />
<path d="M250.0,718.0 L247.3,713.0 L246.9,742.0 L250.0,746.0 Z" fill="#fff" stroke-width="2.4" />
<path d="M269.7,716.0 L265.4,716.8 L266.8,744.6 L271.5,743.6 Z" fill="#fff" stroke-width="2.4" />
<path d="M239.1,717.4 L234.6,716.8 L233.2,744.6 L238.1,745.3 Z" fill="#fff" stroke-width="2.4" />
<path d="M254.7,717.9 L250.0,718.0 L250.0,746.0 L255.1,745.9 Z" fill="#fff" stroke-width="2.4" />
<path d="M199,723 A51,30 0 0 0 301,723" fill="none" stroke-width="2.8" />
<path d="M288.0,698.0 L294.9,699.4 L294.3,701.5 L286.9,701.6 L285.7,703.1 L291.1,706.1 L289.0,708.0 L281.5,706.4 L279.1,707.6 L282.4,711.9 L278.9,713.3 L272.3,710.1 L269.0,711.0 L269.7,716.0 L265.4,716.8 L260.5,712.4 L256.6,712.8 L254.7,717.9 L250.0,718.0 L247.3,713.0 L243.4,712.8 L239.1,717.4 L234.6,716.8 L234.5,711.7 L231.0,711.0 L224.8,714.6 L221.1,713.3 L223.6,708.8 L220.9,707.6 L213.6,709.8 L211.0,708.0 L215.8,704.6 L214.3,703.1 L206.7,703.5 L205.7,701.5 L212.2,699.6 L212.0,698.0 L205.1,696.6 L205.7,694.5 L213.1,694.4 L214.3,692.9 L208.9,689.9 L211.0,688.0 L218.5,689.6 L220.9,688.4 L217.6,684.1 L221.1,682.7 L227.7,685.9 L231.0,685.0 L230.3,680.0 L234.6,679.2 L239.5,683.6 L243.4,683.2 L245.3,678.1 L250.0,678.0 L252.7,683.0 L256.6,683.2 L260.9,678.6 L265.4,679.2 L265.5,684.3 L269.0,685.0 L275.2,681.4 L278.9,682.7 L276.4,687.2 L279.1,688.4 L286.4,686.2 L289.0,688.0 L284.2,691.4 L285.7,692.9 L293.3,692.5 L294.3,694.5 L287.8,696.4 Z" fill="#fff" stroke-width="2.6" />
<ellipse cx="250.5" cy="703.0" rx="16.0" ry="8.2" fill="none" stroke-width="2.8" />
<path d="M234.6,503.5 L234.6,661.5 A16.2,7 0 0 0 267,661.5 L267,503.5 A16.2,7 0 0 0 234.6,503.5 Z" fill="#fff" stroke-width="2.8" />
<ellipse cx="250.8" cy="503.5" rx="16.2" ry="7.0" fill="none" stroke-width="2.8" />
<path d="M234.6,518 A16.2,7 0 0 0 267,518" fill="none" stroke-width="2.5" />
<path d="M234.6,525 A16.2,7 0 0 0 267,525" fill="none" stroke-width="2.5" />
<g transform="translate(131.0,462.0) rotate(31)">
<path d="M0,-3.6 L38,-3.6 A3.6,3.6 0 0 1 38,3.6 L0,3.6 A3.6,3.6 0 0 1 0,-3.6 Z" fill="#fff" stroke-width="2.6" />
<line x1="2.0" y1="0.0" x2="37.0" y2="0.0" stroke-width="1.6"/>
</g>
<path d="M220.0,385.0 L220.0,392.0 A28.0,12.5 0 0 0 276.0,392.0 L276.0,385.0" fill="#fff" stroke-width="2.8" />
<ellipse cx="248.0" cy="385.0" rx="28.0" ry="12.5" fill="#fff" stroke-width="2.8" />
<ellipse cx="248.0" cy="386.0" rx="16.5" ry="8.0" fill="none" stroke-width="2.8" />
<path d="M218.0,776.0 L218.0,783.0 A30.0,13.0 0 0 0 278.0,783.0 L278.0,776.0" fill="#fff" stroke-width="2.8" />
<ellipse cx="248.0" cy="776.0" rx="30.0" ry="13.0" fill="#fff" stroke-width="2.8" />
<ellipse cx="248.0" cy="777.0" rx="18.5" ry="9.5" fill="none" stroke-width="2.8" />
<g transform="translate(95.0,672.0) rotate(-29.0)">
<path d="M0.0,-27.5 L4.0,-27.5 A19.2,27.5 0 0 1 4.0,27.5 L0.0,27.5 A19.2,27.5 0 0 1 0.0,-27.5 Z" fill="#fff" stroke-width="2.5" />
<ellipse cx="0.0" cy="0.0" rx="19.2" ry="27.5" fill="#fff" stroke-width="2.5" />
<ellipse cx="0.0" cy="0.0" rx="11.2" ry="16.0" fill="#fff" stroke-width="2.5" />
<clipPath id="k13"><ellipse cx="0" cy="0" rx="11.2" ry="16.0"/></clipPath>
<ellipse cx="4.0" cy="0.0" rx="11.2" ry="16.0" fill="none" stroke-width="1.6" clip-path="url(#k13)"/>
</g>
<g transform="translate(379.0,510.0) rotate(-29.0)">
<path d="M0.0,-28.0 L4.0,-28.0 A19.6,28.0 0 0 1 4.0,28.0 L0.0,28.0 A19.6,28.0 0 0 1 0.0,-28.0 Z" fill="#fff" stroke-width="2.5" />
<ellipse cx="0.0" cy="0.0" rx="19.6" ry="28.0" fill="#fff" stroke-width="2.5" />
<ellipse cx="0.0" cy="0.0" rx="11.5" ry="16.5" fill="#fff" stroke-width="2.5" />
<clipPath id="k14"><ellipse cx="0" cy="0" rx="11.5" ry="16.5"/></clipPath>
<ellipse cx="4.0" cy="0.0" rx="11.5" ry="16.5" fill="none" stroke-width="1.6" clip-path="url(#k14)"/>
</g>
<g transform="translate(151.0,641.0) rotate(-29.0)">
<path d="M46.1,3.2 L46.0,4.7 L51.9,10.0 L50.7,15.8 L43.9,15.3 L42.9,18.1 L42.4,19.4 L46.2,28.0 L43.5,32.4 L37.5,27.5 L35.8,29.4 L34.9,30.2 L35.9,40.4 L32.2,42.7 L28.2,34.3 L26.1,34.9 L25.1,35.1 L23.0,44.9 L19.0,44.5 L17.8,34.3 L15.8,33.5 L14.8,33.0 L10.1,40.4 L6.7,37.5 L8.5,27.5 L6.9,25.4 L6.2,24.3 L-0.2,28.0 L-2.4,23.0 L2.1,15.3 L1.2,12.4 L0.9,10.9 L-5.9,10.0 L-6.5,4.0 L-0.2,0.0 L-0.1,-3.2 L-0.0,-4.7 L-5.9,-10.0 L-4.7,-15.8 L2.1,-15.3 L3.1,-18.1 L3.6,-19.4 L-0.2,-28.0 L2.5,-32.4 L8.5,-27.5 L10.2,-29.4 L11.1,-30.2 L10.1,-40.4 L13.8,-42.7 L17.8,-34.3 L19.9,-34.9 L20.9,-35.1 L23.0,-44.9 L27.0,-44.5 L28.2,-34.3 L30.2,-33.5 L31.2,-33.0 L35.9,-40.4 L39.3,-37.5 L37.5,-27.5 L39.1,-25.4 L39.8,-24.3 L46.2,-28.0 L48.4,-23.0 L43.9,-15.3 L44.8,-12.4 L45.1,-10.9 L51.9,-10.0 L52.5,-4.0 L46.2,-0.0 Z" fill="#fff" stroke-width="2" />
<path d="M-20.5,-17.9 L-12.8,-17.4 L2.1,-15.3 L-4.7,-15.8 Z" fill="#fff" stroke-width="2.2" />
<path d="M-8.1,27.6 L-15.3,31.8 L-0.2,28.0 L6.2,24.3 Z" fill="#fff" stroke-width="2.2" />
<path d="M-12.3,-36.9 L-5.5,-31.3 L8.5,-27.5 L2.5,-32.4 Z" fill="#fff" stroke-width="2.2" />
<path d="M1.7,37.4 L-3.6,45.9 L10.1,40.4 L14.8,33.0 Z" fill="#fff" stroke-width="2.2" />
<path d="M0.6,-48.5 L5.1,-39.0 L17.8,-34.3 L13.8,-42.7 Z" fill="#fff" stroke-width="2.2" />
<path d="M13.4,39.8 L11.0,51.0 L23.0,44.9 L25.1,35.1 Z" fill="#fff" stroke-width="2.2" />
<path d="M11.0,-51.0 L15.5,-50.5 L27.0,-44.5 L23.0,-44.9 Z" fill="#fff" stroke-width="2.2" />
<path d="M14.5,39.6 L13.4,39.8 L25.1,35.1 L26.1,34.9 Z" fill="#fff" stroke-width="2.2" />
<path d="M16.9,39.0 L14.5,39.6 L26.1,34.9 L28.2,34.3 Z" fill="#fff" stroke-width="2.2" />
<path d="M15.5,-50.5 L16.9,-39.0 L28.2,-34.3 L27.0,-44.5 Z" fill="#fff" stroke-width="2.2" />
<path d="M16.9,-39.0 L19.2,-38.0 L30.2,-33.5 L28.2,-34.3 Z" fill="#fff" stroke-width="2.2" />
<path d="M19.2,-38.0 L20.3,-37.4 L31.2,-33.0 L30.2,-33.5 Z" fill="#fff" stroke-width="2.2" />
<path d="M25.6,45.9 L21.4,48.5 L32.2,42.7 L35.9,40.4 Z" fill="#fff" stroke-width="2.2" />
<path d="M25.5,33.4 L24.5,34.3 L34.9,30.2 L35.8,29.4 Z" fill="#fff" stroke-width="2.2" />
<path d="M24.5,34.3 L25.6,45.9 L35.9,40.4 L34.9,30.2 Z" fill="#fff" stroke-width="2.2" />
<path d="M27.5,31.3 L25.5,33.4 L35.8,29.4 L37.5,27.5 Z" fill="#fff" stroke-width="2.2" />
<path d="M25.6,-45.9 L29.5,-42.6 L39.3,-37.5 L35.9,-40.4 Z" fill="#fff" stroke-width="2.2" />
<path d="M27.5,-31.3 L29.2,-28.9 L39.1,-25.4 L37.5,-27.5 Z" fill="#fff" stroke-width="2.2" />
<path d="M29.5,-42.6 L27.5,-31.3 L37.5,-27.5 L39.3,-37.5 Z" fill="#fff" stroke-width="2.2" />
<path d="M29.2,-28.9 L30.1,-27.6 L39.8,-24.3 L39.1,-25.4 Z" fill="#fff" stroke-width="2.2" />
<path d="M33.7,20.5 L33.0,22.0 L42.4,19.4 L42.9,18.1 Z" fill="#fff" stroke-width="2.2" />
<path d="M34.8,17.4 L33.7,20.5 L42.9,18.1 L43.9,15.3 Z" fill="#fff" stroke-width="2.2" />
<path d="M33.0,22.0 L37.3,31.8 L46.2,28.0 L42.4,19.4 Z" fill="#fff" stroke-width="2.2" />
<path d="M34.8,-17.4 L35.7,-14.1 L44.8,-12.4 L43.9,-15.3 Z" fill="#fff" stroke-width="2.2" />
<path d="M37.3,31.8 L34.3,36.9 L43.5,32.4 L46.2,28.0 Z" fill="#fff" stroke-width="2.2" />
<path d="M35.7,-14.1 L36.1,-12.4 L45.1,-10.9 L44.8,-12.4 Z" fill="#fff" stroke-width="2.2" />
<path d="M37.3,3.6 L37.2,5.4 L46.0,4.7 L46.1,3.2 Z" fill="#fff" stroke-width="2.2" />
<path d="M39.9,-26.2 L34.8,-17.4 L43.9,-15.3 L48.4,-23.0 Z" fill="#fff" stroke-width="2.2" />
<path d="M37.4,-0.0 L37.3,3.6 L46.1,3.2 L46.2,-0.0 Z" fill="#fff" stroke-width="2.2" />
<path d="M37.3,-31.8 L39.9,-26.2 L48.4,-23.0 L46.2,-28.0 Z" fill="#fff" stroke-width="2.2" />
<path d="M36.1,-12.4 L43.8,-11.3 L51.9,-10.0 L45.1,-10.9 Z" fill="#fff" stroke-width="2.2" />
<path d="M37.2,5.4 L43.8,11.3 L51.9,10.0 L46.0,4.7 Z" fill="#fff" stroke-width="2.2" />
<path d="M44.5,-4.6 L37.4,-0.0 L46.2,-0.0 L52.5,-4.0 Z" fill="#fff" stroke-width="2.2" />
<path d="M43.8,11.3 L42.5,17.9 L50.7,15.8 L51.9,10.0 Z" fill="#fff" stroke-width="2.2" />
<path d="M43.8,-11.3 L44.5,-4.6 L52.5,-4.0 L51.9,-10.0 Z" fill="#fff" stroke-width="2.2" />
<path d="M37.3,3.6 L37.2,5.4 L43.8,11.3 L42.5,17.9 L34.8,17.4 L33.7,20.5 L33.0,22.0 L37.3,31.8 L34.3,36.9 L27.5,31.3 L25.5,33.4 L24.5,34.3 L25.6,45.9 L21.4,48.5 L16.9,39.0 L14.5,39.6 L13.4,39.8 L11.0,51.0 L6.5,50.5 L5.1,39.0 L2.8,38.0 L1.7,37.4 L-3.6,45.9 L-7.5,42.6 L-5.5,31.3 L-7.2,28.9 L-8.1,27.6 L-15.3,31.8 L-17.9,26.2 L-12.8,17.4 L-13.7,14.1 L-14.1,12.4 L-21.8,11.3 L-22.5,4.6 L-15.4,0.0 L-15.3,-3.6 L-15.2,-5.4 L-21.8,-11.3 L-20.5,-17.9 L-12.8,-17.4 L-11.7,-20.5 L-11.0,-22.0 L-15.3,-31.8 L-12.3,-36.9 L-5.5,-31.3 L-3.5,-33.4 L-2.5,-34.3 L-3.6,-45.9 L0.6,-48.5 L5.1,-39.0 L7.5,-39.6 L8.6,-39.8 L11.0,-51.0 L15.5,-50.5 L16.9,-39.0 L19.2,-38.0 L20.3,-37.4 L25.6,-45.9 L29.5,-42.6 L27.5,-31.3 L29.2,-28.9 L30.1,-27.6 L37.3,-31.8 L39.9,-26.2 L34.8,-17.4 L35.7,-14.1 L36.1,-12.4 L43.8,-11.3 L44.5,-4.6 L37.4,-0.0 Z" fill="#fff" stroke-width="2.8" />
<ellipse cx="0.0" cy="0.0" rx="28.4" ry="43.0" fill="#fff" stroke-width="2.8" />
<ellipse cx="0.0" cy="0.0" rx="26.7" ry="40.5" fill="none" stroke-width="1.5" />
</g>
<ellipse cx="152.0" cy="638.0" rx="11.0" ry="16.0" transform="rotate(-25 152.0 638.0)" fill="#fff" stroke-width="2.8"/>
<clipPath id="k15"><ellipse cx="152" cy="638" rx="11" ry="16" transform="rotate(-25 152 638)"/></clipPath>
<g clip-path="url(#k15)">
<line x1="135.0" y1="623.0" x2="170.0" y2="613.0" stroke-width="1.6"/>
<line x1="135.0" y1="627.2" x2="170.0" y2="617.2" stroke-width="1.6"/>
<line x1="135.0" y1="631.4" x2="170.0" y2="621.4" stroke-width="1.6"/>
<line x1="135.0" y1="635.6" x2="170.0" y2="625.6" stroke-width="1.6"/>
<line x1="135.0" y1="639.8" x2="170.0" y2="629.8" stroke-width="1.6"/>
<line x1="135.0" y1="644.0" x2="170.0" y2="634.0" stroke-width="1.6"/>
<line x1="135.0" y1="648.2" x2="170.0" y2="638.2" stroke-width="1.6"/>
<line x1="135.0" y1="652.4" x2="170.0" y2="642.4" stroke-width="1.6"/>
<line x1="135.0" y1="656.6" x2="170.0" y2="646.6" stroke-width="1.6"/>
<line x1="135.0" y1="660.8" x2="170.0" y2="650.8" stroke-width="1.6"/>
<line x1="135.0" y1="665.0" x2="170.0" y2="655.0" stroke-width="1.6"/>
</g>
<path d="M158.0,650.0 L182.0,668.0" fill="none" stroke-width="2.5" />
<path d="M161.0,647.0 L184.0,665.0" fill="none" stroke-width="1.5" />
<ellipse cx="329.0" cy="546.0" rx="31.0" ry="45.0" transform="rotate(-12 329.0 546.0)" fill="#fff" stroke-width="2.8"/>
<g transform="translate(305.0,550.0) rotate(-18)">
<path d="M18.0,-49.5 A22.2,52.8 0 0 1 18.0,49.5" fill="none" stroke-width="2.8" />
<path d="M-11.3,22.5 L-14.6,25.3 L1.9,27.8 L5.6,24.8 Z" fill="#fff" stroke-width="2" />
<path d="M-14.4,-26.0 L-11.1,-23.0 L5.8,-25.3 L2.2,-28.5 Z" fill="#fff" stroke-width="2" />
<path d="M-6.8,31.1 L-9.4,36.7 L7.6,40.3 L10.5,34.2 Z" fill="#fff" stroke-width="2" />
<path d="M-9.1,-37.1 L-6.5,-31.4 L10.8,-34.5 L8.0,-40.8 Z" fill="#fff" stroke-width="2" />
<path d="M-1.3,34.9 L-2.8,42.5 L14.9,46.7 L16.6,38.4 Z" fill="#fff" stroke-width="2" />
<path d="M-2.5,-42.6 L-1.0,-34.9 L16.9,-38.4 L15.3,-46.9 Z" fill="#fff" stroke-width="2" />
<path d="M1.0,34.9 L-0.6,35.0 L17.4,38.5 L19.1,38.4 Z" fill="#fff" stroke-width="2" />
<path d="M0.6,-35.0 L1.3,-34.9 L19.4,-38.4 L18.6,-38.5 Z" fill="#fff" stroke-width="2" />
<path d="M4.2,41.8 L2.5,42.6 L20.7,46.9 L22.6,46.0 Z" fill="#fff" stroke-width="2" />
<path d="M2.8,-42.5 L4.6,-41.6 L23.0,-45.8 L21.1,-46.7 Z" fill="#fff" stroke-width="2" />
<path d="M4.4,33.4 L4.2,41.8 L22.6,46.0 L22.9,36.7 Z" fill="#fff" stroke-width="2" />
<path d="M4.6,-41.6 L4.7,-33.2 L23.2,-36.5 L23.0,-45.8 Z" fill="#fff" stroke-width="2" />
<path d="M5.1,32.8 L4.4,33.4 L22.9,36.7 L23.6,36.1 Z" fill="#fff" stroke-width="2" />
<path d="M4.7,-33.2 L6.2,-31.8 L24.8,-35.0 L23.2,-36.5 Z" fill="#fff" stroke-width="2" />
<path d="M6.5,31.4 L5.1,32.8 L23.6,36.1 L25.2,34.5 Z" fill="#fff" stroke-width="2" />
<path d="M6.2,-31.8 L6.8,-31.1 L25.5,-34.2 L24.8,-35.0 Z" fill="#fff" stroke-width="2" />
<path d="M10.0,25.7 L9.5,26.8 L28.4,29.5 L29.0,28.3 Z" fill="#fff" stroke-width="2" />
<path d="M10.6,34.8 L9.1,37.1 L28.0,40.8 L29.7,38.3 Z" fill="#fff" stroke-width="2" />
<path d="M9.5,26.8 L10.6,34.8 L29.7,38.3 L28.4,29.5 Z" fill="#fff" stroke-width="2" />
<path d="M9.4,-36.7 L10.9,-34.3 L30.0,-37.7 L28.4,-40.3 Z" fill="#fff" stroke-width="2" />
<path d="M9.7,-26.3 L10.8,-23.8 L29.9,-26.1 L28.6,-29.0 Z" fill="#fff" stroke-width="2" />
<path d="M10.9,-34.3 L9.7,-26.3 L28.6,-29.0 L30.0,-37.7 Z" fill="#fff" stroke-width="2" />
<path d="M11.1,23.0 L10.0,25.7 L29.0,28.3 L30.2,25.3 Z" fill="#fff" stroke-width="2" />
<path d="M10.8,-23.8 L11.3,-22.5 L30.4,-24.8 L29.9,-26.1 Z" fill="#fff" stroke-width="2" />
<path d="M13.3,14.7 L13.0,16.1 L32.3,17.7 L32.7,16.1 Z" fill="#fff" stroke-width="2" />
<path d="M13.2,-15.5 L13.8,-12.1 L33.2,-13.3 L32.5,-17.1 Z" fill="#fff" stroke-width="2" />
<path d="M13.9,11.2 L13.3,14.7 L32.7,16.1 L33.3,12.3 Z" fill="#fff" stroke-width="2" />
<path d="M13.8,-12.1 L14.0,-10.6 L33.4,-11.6 L33.2,-13.3 Z" fill="#fff" stroke-width="2" />
<path d="M13.0,16.1 L15.4,22.5 L34.9,24.7 L32.3,17.7 Z" fill="#fff" stroke-width="2" />
<path d="M15.6,-21.7 L13.2,-15.5 L32.5,-17.1 L35.1,-23.9 Z" fill="#fff" stroke-width="2" />
<path d="M14.7,1.4 L14.6,3.0 L34.1,3.3 L34.2,1.5 Z" fill="#fff" stroke-width="2" />
<path d="M14.7,-2.3 L14.7,1.4 L34.2,1.5 L34.1,-2.6 Z" fill="#fff" stroke-width="2" />
<path d="M15.4,22.5 L14.4,26.0 L33.8,28.5 L34.9,24.7 Z" fill="#fff" stroke-width="2" />
<path d="M14.6,-25.3 L15.6,-21.7 L35.1,-23.9 L34.1,-27.8 Z" fill="#fff" stroke-width="2" />
<path d="M17.5,10.9 L13.9,11.2 L33.3,12.3 L37.2,11.9 Z" fill="#fff" stroke-width="2" />
<path d="M14.0,-10.6 L17.6,-10.0 L37.3,-11.0 L33.4,-11.6 Z" fill="#fff" stroke-width="2" />
<path d="M14.6,3.0 L17.8,6.7 L37.6,7.4 L34.1,3.3 Z" fill="#fff" stroke-width="2" />
<path d="M17.9,-5.9 L14.7,-2.3 L34.1,-2.6 L37.7,-6.5 Z" fill="#fff" stroke-width="2" />
<path d="M17.8,6.7 L17.5,10.9 L37.2,11.9 L37.6,7.4 Z" fill="#fff" stroke-width="2" />
<path d="M17.6,-10.0 L17.9,-5.9 L37.7,-6.5 L37.3,-11.0 Z" fill="#fff" stroke-width="2" />
<path d="M14.7,1.4 L14.6,3.0 L17.8,6.7 L17.5,10.9 L13.9,11.2 L13.3,14.7 L13.0,16.1 L15.4,22.5 L14.4,26.0 L11.1,23.0 L10.0,25.7 L9.5,26.8 L10.6,34.8 L9.1,37.1 L6.5,31.4 L5.1,32.8 L4.4,33.4 L4.2,41.8 L2.5,42.6 L1.0,34.9 L-0.6,35.0 L-1.3,34.9 L-2.8,42.5 L-4.6,41.6 L-4.7,33.2 L-6.2,31.8 L-6.8,31.1 L-9.4,36.7 L-10.9,34.3 L-9.7,26.3 L-10.8,23.8 L-11.3,22.5 L-14.6,25.3 L-15.6,21.7 L-13.2,15.5 L-13.8,12.1 L-14.0,10.6 L-17.6,10.0 L-17.9,5.9 L-14.7,2.3 L-14.7,-1.4 L-14.6,-3.0 L-17.8,-6.7 L-17.5,-10.9 L-13.9,-11.2 L-13.3,-14.7 L-13.0,-16.1 L-15.4,-22.5 L-14.4,-26.0 L-11.1,-23.0 L-10.0,-25.7 L-9.5,-26.8 L-10.6,-34.8 L-9.1,-37.1 L-6.5,-31.4 L-5.1,-32.8 L-4.4,-33.4 L-4.2,-41.8 L-2.5,-42.6 L-1.0,-34.9 L0.6,-35.0 L1.3,-34.9 L2.8,-42.5 L4.6,-41.6 L4.7,-33.2 L6.2,-31.8 L6.8,-31.1 L9.4,-36.7 L10.9,-34.3 L9.7,-26.3 L10.8,-23.8 L11.3,-22.5 L14.6,-25.3 L15.6,-21.7 L13.2,-15.5 L13.8,-12.1 L14.0,-10.6 L17.6,-10.0 L17.9,-5.9 L14.7,-2.3 Z" fill="#fff" stroke-width="2.8" />
<ellipse cx="3.0" cy="3.0" rx="14.5" ry="19.0" fill="#fff" stroke-width="2.8" />
<clipPath id="k16"><ellipse cx="3" cy="3" rx="14.5" ry="19"/></clipPath>
<g clip-path="url(#k16)">
<line x1="-20.0" y1="-18.0" x2="20.0" y2="-21.0" stroke-width="1.5"/>
<line x1="-20.0" y1="-14.4" x2="20.0" y2="-17.4" stroke-width="1.5"/>
<line x1="-20.0" y1="-10.8" x2="20.0" y2="-13.8" stroke-width="1.5"/>
<line x1="-20.0" y1="-7.2" x2="20.0" y2="-10.2" stroke-width="1.5"/>
<line x1="-20.0" y1="-3.6" x2="20.0" y2="-6.6" stroke-width="1.5"/>
<line x1="-20.0" y1="0.0" x2="20.0" y2="-3.0" stroke-width="1.5"/>
<line x1="-20.0" y1="3.6" x2="20.0" y2="0.6" stroke-width="1.5"/>
<line x1="-20.0" y1="7.2" x2="20.0" y2="4.2" stroke-width="1.5"/>
<line x1="-20.0" y1="10.8" x2="20.0" y2="7.8" stroke-width="1.5"/>
<line x1="-20.0" y1="14.4" x2="20.0" y2="11.4" stroke-width="1.5"/>
<line x1="-20.0" y1="18.0" x2="20.0" y2="15.0" stroke-width="1.5"/>
</g>
</g>
<g transform="translate(895.0,648.0) rotate(-29.0)">
<path d="M-35.0,-5.0 L0.0,-5.0 A2.9,5.0 0 0 1 0.0,5.0 L-35.0,5.0 A2.9,5.0 0 0 1 -35.0,-5.0 Z" fill="#fff" stroke-width="2.6" />
<ellipse cx="-35.0" cy="0.0" rx="2.9" ry="5.0" fill="#fff" stroke-width="2.6" />
<path d="M-30.0,-5.0 A2.9,5.0 0 0 1 -30.0,5.0" fill="none" stroke-width="1.8" />
<path d="M-26.0,-5.0 A2.9,5.0 0 0 1 -26.0,5.0" fill="none" stroke-width="1.8" />
<path d="M-22.0,-5.0 A2.9,5.0 0 0 1 -22.0,5.0" fill="none" stroke-width="1.8" />
<path d="M-18.0,-5.0 A2.9,5.0 0 0 1 -18.0,5.0" fill="none" stroke-width="1.8" />
<path d="M-14.0,-5.0 A2.9,5.0 0 0 1 -14.0,5.0" fill="none" stroke-width="1.8" />
<path d="M-10.0,-5.0 A2.9,5.0 0 0 1 -10.0,5.0" fill="none" stroke-width="1.8" />
<path d="M-6.0,-5.0 A2.9,5.0 0 0 1 -6.0,5.0" fill="none" stroke-width="1.8" />
<path d="M3.0,-13.0 L11.0,-13.0 A7.5,13.0 0 0 1 11.0,13.0 L3.0,13.0 A7.5,13.0 0 0 1 3.0,-13.0 Z" fill="#fff" stroke-width="2.8" />
<ellipse cx="3.0" cy="0.0" rx="7.5" ry="13.0" fill="#fff" stroke-width="2.8" />
<path d="M0.0,-14.0 L4.0,-14.0 A8.1,14.0 0 0 1 4.0,14.0 L0.0,14.0 A8.1,14.0 0 0 1 0.0,-14.0 Z" fill="#fff" stroke-width="2.8" />
<ellipse cx="0.0" cy="0.0" rx="8.1" ry="14.0" fill="#fff" stroke-width="2.8" />
<ellipse cx="0.0" cy="0.0" rx="5.2" ry="9.0" fill="none" stroke-width="1.8" />
</g>
<line x1="1377.5" y1="14.6" x2="1317.0" y2="93.8" stroke-width="2"/>
<line x1="1377.5" y1="14.6" x2="1338.0" y2="30.0" stroke-width="2"/>
<path d="M1316.0,47.0 L1337.0,24.5 L1342.0,31.5 Z" fill="#000" stroke-width="1.5" />
<line x1="208.0" y1="948.0" x2="237.5" y2="933.0" stroke-width="2.2"/>
<line x1="208.0" y1="948.0" x2="220.0" y2="912.0" stroke-width="2.2"/>
<path d="M226.0,899.0 L211.0,919.0 L217.0,921.0 Z" fill="#000" stroke-width="1.5" />
<path d="M1819.0,872.6 L1855.0,892.4 L1859.3,886.0 L1867.7,913.2 L1839.5,921.6 L1842.0,914.0 L1807.4,892.4 Z" fill="#000" stroke-width="1.5" />
<text x="0" y="0" font-size="30" font-weight="bold" stroke="#000" stroke-width="2" fill="#000" transform="translate(1757,861) rotate(31)" letter-spacing="1.5">FR.</text>
<text x="1507" y="918.5" font-size="27.5" stroke="#000" stroke-width="1.2" fill="#000" style="font-family:'Liberation Serif',serif" textLength="63" lengthAdjust="spacingAndGlyphs">7504</text>
<line x1="1574.0" y1="909.0" x2="1594.0" y2="909.0" stroke-width="1.6"/>
<text x="1597" y="918.5" font-size="27.5" stroke="#000" stroke-width="1.2" fill="#000" style="font-family:'Liberation Serif',serif" textLength="81" lengthAdjust="spacingAndGlyphs">F0900</text>
<text x="248.0" y="328.0" font-size="28" text-anchor="middle" stroke="#000" stroke-width="0.8" fill="#000">13</text>
<text x="141.0" y="420.0" font-size="28" text-anchor="middle" stroke="#000" stroke-width="0.8" fill="#000">15</text>
<text x="344.0" y="442.0" font-size="28" text-anchor="middle" stroke="#000" stroke-width="0.8" fill="#000">7</text>
<text x="139.0" y="547.0" font-size="28" text-anchor="middle" stroke="#000" stroke-width="0.8" fill="#000">3</text>
<text x="195.0" y="565.0" font-size="28" text-anchor="middle" stroke="#000" stroke-width="0.8" fill="#000">6</text>
<text x="400.0" y="592.0" font-size="28" text-anchor="middle" stroke="#000" stroke-width="0.8" fill="#000">14</text>
<text x="337.0" y="655.0" font-size="28" text-anchor="middle" stroke="#000" stroke-width="0.8" fill="#000">3</text>
<text x="432.0" y="657.0" font-size="28" text-anchor="middle" stroke="#000" stroke-width="0.8" fill="#000">4</text>
<text x="95.0" y="757.0" font-size="28" text-anchor="middle" stroke="#000" stroke-width="0.8" fill="#000">14</text>
<text x="338.0" y="713.0" font-size="28" text-anchor="middle" stroke="#000" stroke-width="0.8" fill="#000">7</text>
<text x="165.0" y="790.0" font-size="28" text-anchor="middle" stroke="#000" stroke-width="0.8" fill="#000">13</text>
<text x="332.0" y="771.0" font-size="28" text-anchor="middle" stroke="#000" stroke-width="0.8" fill="#000">18</text>
<text x="244.0" y="872.0" font-size="28" text-anchor="middle" stroke="#000" stroke-width="0.8" fill="#000">11</text>
<text x="480.0" y="408.0" font-size="28" text-anchor="middle" stroke="#000" stroke-width="0.8" fill="#000">16</text>
<text x="545.0" y="388.0" font-size="28" text-anchor="middle" stroke="#000" stroke-width="0.8" fill="#000">12</text>
<text x="904.0" y="188.0" font-size="28" text-anchor="middle" stroke="#000" stroke-width="0.8" fill="#000">8</text>
<text x="1238.0" y="280.0" font-size="28" text-anchor="middle" stroke="#000" stroke-width="0.8" fill="#000">9</text>
<text x="745.0" y="473.0" font-size="28" text-anchor="middle" stroke="#000" stroke-width="0.8" fill="#000">5</text>
<text x="866.0" y="441.0" font-size="28" text-anchor="middle" stroke="#000" stroke-width="0.8" fill="#000">18</text>
<text x="937.0" y="448.0" font-size="28" text-anchor="middle" stroke="#000" stroke-width="0.8" fill="#000">11</text>
<text x="893.0" y="728.0" font-size="28" text-anchor="middle" stroke="#000" stroke-width="0.8" fill="#000">10</text>
<text x="1090.0" y="701.0" font-size="28" text-anchor="middle" stroke="#000" stroke-width="0.8" fill="#000">17</text>
<text x="1245.0" y="622.0" font-size="28" text-anchor="middle" stroke="#000" stroke-width="0.8" fill="#000">1</text>
<text x="1507.0" y="381.0" font-size="28" text-anchor="middle" stroke="#000" stroke-width="0.8" fill="#000">2</text>
<text x="1723.0" y="349.0" font-size="28" text-anchor="middle" stroke="#000" stroke-width="0.8" fill="#000">19</text>
<text x="1717.0" y="203.0" font-size="28" text-anchor="middle" stroke="#000" stroke-width="0.8" fill="#000">12</text>
<text x="1789.0" y="189.0" font-size="28" text-anchor="middle" stroke="#000" stroke-width="0.8" fill="#000">16</text>
<line x1="246.0" y1="335.0" x2="246.0" y2="372.0" stroke-width="2"/>
<line x1="142.0" y1="426.0" x2="142.0" y2="462.0" stroke-width="2"/>
<line x1="288.0" y1="430.0" x2="330.0" y2="430.0" stroke-width="2"/>
<line x1="138.0" y1="552.0" x2="138.0" y2="590.0" stroke-width="2"/>
<line x1="210.0" y1="558.0" x2="234.0" y2="558.0" stroke-width="2"/>
<line x1="398.0" y1="537.0" x2="398.0" y2="567.0" stroke-width="2"/>
<line x1="335.0" y1="592.0" x2="335.0" y2="624.0" stroke-width="2"/>
<line x1="431.0" y1="662.0" x2="431.0" y2="708.0" stroke-width="2"/>
<line x1="95.0" y1="700.0" x2="95.0" y2="730.0" stroke-width="2"/>
<line x1="292.0" y1="702.0" x2="327.0" y2="702.0" stroke-width="2"/>
<line x1="183.0" y1="782.0" x2="218.0" y2="782.0" stroke-width="2"/>
<line x1="328.0" y1="778.0" x2="328.0" y2="812.0" stroke-width="2"/>
<line x1="247.0" y1="880.0" x2="247.0" y2="892.0" stroke-width="2"/>
<line x1="480.0" y1="416.0" x2="480.0" y2="457.0" stroke-width="2"/>
<line x1="544.0" y1="396.0" x2="544.0" y2="435.0" stroke-width="2"/>
<line x1="904.0" y1="196.0" x2="904.0" y2="248.0" stroke-width="2"/>
<line x1="1238.0" y1="288.0" x2="1238.0" y2="335.0" stroke-width="2"/>
<line x1="744.0" y1="477.0" x2="744.0" y2="516.0" stroke-width="2"/>
<line x1="863.0" y1="449.0" x2="863.0" y2="496.0" stroke-width="2"/>
<line x1="937.0" y1="456.0" x2="937.0" y2="503.0" stroke-width="2"/>
<line x1="896.0" y1="663.0" x2="896.0" y2="702.0" stroke-width="2"/>
<line x1="1089.0" y1="706.0" x2="1089.0" y2="756.0" stroke-width="2"/>
<line x1="1245.0" y1="630.0" x2="1245.0" y2="690.0" stroke-width="2"/>
<line x1="1507.0" y1="388.0" x2="1507.0" y2="437.0" stroke-width="2"/>
<line x1="1723.0" y1="364.0" x2="1723.0" y2="399.0" stroke-width="2"/>
<line x1="1715.0" y1="133.0" x2="1715.0" y2="174.0" stroke-width="2"/>
<line x1="1786.0" y1="115.0" x2="1786.0" y2="162.0" stroke-width="2"/>
</g>
</svg>
</body></html>
